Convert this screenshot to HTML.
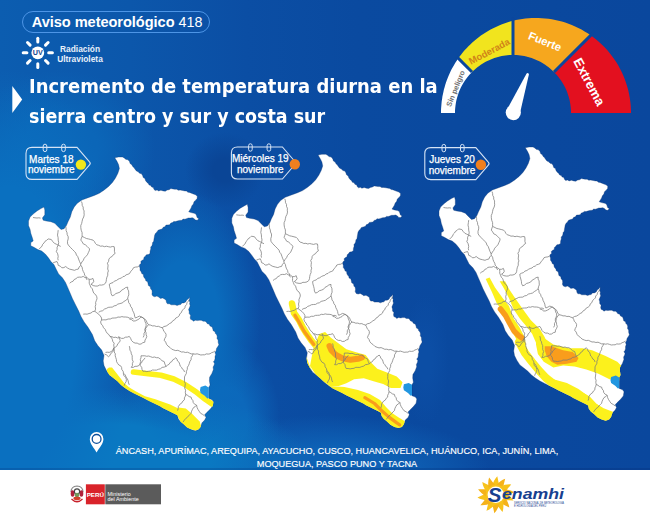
<!DOCTYPE html>
<html><head><meta charset="utf-8">
<style>
*{margin:0;padding:0;box-sizing:border-box}
html,body{width:650px;height:517px;overflow:hidden;background:#fff}
body{position:relative;font-family:"Liberation Sans",sans-serif}
#blue{position:absolute;left:0;top:0;width:650px;height:470px;
background:
 radial-gradient(ellipse 75px 130px at 185px 320px, rgba(10,108,189,1) 45%, rgba(10,108,189,0) 100%),
 radial-gradient(ellipse 40px 38px at 225px 170px, rgba(10,69,150,1) 30%, rgba(10,69,150,0) 100%),
 radial-gradient(ellipse 24px 65px at 425px 360px, rgba(12,78,165,1) 30%, rgba(12,78,165,0) 100%),
 radial-gradient(ellipse 120px 260px at 10px 330px, rgba(10,112,192,1) 55%, rgba(10,112,192,0) 100%),
 radial-gradient(ellipse 200px 75px at 110px 462px, rgba(10,120,194,1) 50%, rgba(10,120,194,0) 100%),
 radial-gradient(ellipse 95px 80px at 60px 150px, rgba(11,102,184,1) 40%, rgba(11,102,184,0) 100%),
 radial-gradient(ellipse 160px 55px at 330px 470px, rgba(14,98,182,1) 40%, rgba(14,98,182,0) 100%),
 radial-gradient(ellipse 55px 80px at 225px 420px, rgba(12,104,187,1) 40%, rgba(12,104,187,0) 100%),
 linear-gradient(90deg, #0c5db0 0%, #0c57ab 20%, #0b4ea4 38%, #0a4aa0 55%, #0a479d 100%);
}
.pill{position:absolute;left:22px;top:11px;width:188px;height:22px;border:1.3px solid #4d95e6;border-radius:11px;color:#fff;font-size:14.3px;line-height:20px;padding-left:8.7px;white-space:nowrap}
.pill b{font-weight:bold;font-size:14.6px;letter-spacing:-0.05px}
.uvt{position:absolute;left:50px;top:43.5px;width:60px;text-align:center;color:#e8f0fa;font-size:8.4px;font-weight:bold;line-height:10.8px}
.title{position:absolute;left:28.6px;top:72.3px;color:#fff;font-family:"DejaVu Sans",sans-serif;font-size:19.8px;font-weight:bold;line-height:30px;white-space:nowrap}
.title span{display:inline-block;transform-origin:0 0}
.title .l1{transform:scaleX(0.908)}
.title .l2{transform:scaleX(0.8837)}
.loc{position:absolute;left:37px;top:445.3px;width:600px;color:#fff;font-size:9.15px;line-height:12.6px;text-align:center;-webkit-text-stroke:0.15px #fff;letter-spacing:0px}
svg{position:absolute;left:0;top:0}
</style></head><body>
<div id="blue"><div style="position:absolute;left:0;top:467.5px;width:650px;height:2.5px;background:rgba(0,30,100,0.18)"></div></div>
<div class="pill"><b>Aviso meteorológico</b> 418</div>
<div class="uvt">Radiación<br>Ultravioleta</div>
<div class="title"><span class="l1">Incremento de temperatura diurna en la</span><br><span class="l2">sierra centro y sur y costa sur</span></div>
<svg width="650" height="517" viewBox="0 0 650 517">
<path d="M12.3,86 L22.2,99.5 L12.3,113 Z" fill="#fff"/>
<g stroke="#fff" stroke-width="3" stroke-linecap="round"><line x1="37.8" y1="41.9" x2="37.8" y2="38.2"/><line x1="45.5" y1="45.1" x2="48.1" y2="42.5"/><line x1="48.7" y1="52.8" x2="52.4" y2="52.8"/><line x1="45.5" y1="60.5" x2="48.1" y2="63.1"/><line x1="37.8" y1="63.7" x2="37.8" y2="67.4"/><line x1="30.1" y1="60.5" x2="27.5" y2="63.1"/><line x1="26.9" y1="52.8" x2="23.2" y2="52.8"/><line x1="30.1" y1="45.1" x2="27.5" y2="42.5"/></g>
<circle cx="37.8" cy="52.8" r="6.4" fill="#fff"/>
<text x="37.8" y="55.4" text-anchor="middle" font-size="7.2" font-weight="bold" fill="#17468f" font-family="Liberation Sans, sans-serif">UV</text>
<path d="M441.0,113.0 L441.0,110.6 L441.1,108.3 L441.3,105.9 L441.5,103.6 L441.7,101.2 L442.1,98.9 L442.4,96.5 L442.9,94.2 L443.4,91.9 L443.9,89.6 L444.6,87.2 L445.2,84.9 L446.0,82.6 L446.8,80.3 L447.7,78.1 L448.6,75.8 L449.6,73.6 L450.6,71.3 L451.7,69.1 L452.9,66.9 L454.2,64.7 L455.5,62.6 L456.9,60.4 L458.3,58.3 L472.0,72.0 L470.7,73.4 L469.4,74.8 L468.2,76.2 L467.0,77.7 L465.9,79.2 L464.8,80.8 L463.7,82.4 L462.8,84.0 L461.8,85.7 L461.0,87.3 L460.2,89.1 L459.4,90.8 L458.7,92.6 L458.1,94.4 L457.5,96.2 L457.0,98.0 L456.5,99.8 L456.1,101.7 L455.8,103.6 L455.5,105.4 L455.3,107.3 L455.1,109.2 L455.0,111.1 L455.0,113.0 Z" fill="#ffffff"/>
<path d="M458.3,58.3 L459.8,56.2 L461.4,54.2 L463.1,52.1 L464.8,50.1 L466.6,48.2 L468.4,46.3 L470.3,44.4 L472.3,42.5 L474.4,40.7 L476.5,39.0 L478.7,37.2 L480.9,35.6 L483.3,34.0 L485.7,32.4 L488.1,31.0 L490.6,29.5 L493.2,28.2 L495.9,26.9 L498.6,25.7 L501.4,24.5 L504.2,23.5 L507.1,22.5 L510.0,21.6 L513.0,20.8 L513.0,55.0 L511.1,55.0 L509.2,55.1 L507.3,55.3 L505.4,55.5 L503.6,55.8 L501.7,56.1 L499.8,56.5 L498.0,57.0 L496.2,57.5 L494.4,58.1 L492.6,58.7 L490.8,59.4 L489.1,60.2 L487.3,61.0 L485.7,61.8 L484.0,62.8 L482.4,63.7 L480.8,64.8 L479.2,65.9 L477.7,67.0 L476.2,68.2 L474.8,69.4 L473.4,70.7 L472.0,72.0 Z" fill="#f1e41e"/>
<path d="M513.0,20.8 L516.0,20.1 L519.1,19.5 L522.3,19.0 L525.4,18.6 L528.6,18.3 L531.9,18.1 L535.2,18.0 L538.4,18.0 L541.8,18.2 L545.1,18.4 L548.4,18.8 L551.8,19.3 L555.2,20.0 L558.5,20.7 L561.9,21.6 L565.2,22.6 L568.5,23.7 L571.8,25.0 L575.1,26.4 L578.3,27.9 L581.5,29.6 L584.6,31.4 L587.7,33.3 L590.7,35.3 L554.0,72.0 L552.6,70.7 L551.2,69.4 L549.8,68.2 L548.3,67.0 L546.8,65.9 L545.2,64.8 L543.6,63.7 L542.0,62.8 L540.3,61.8 L538.7,61.0 L536.9,60.2 L535.2,59.4 L533.4,58.7 L531.6,58.1 L529.8,57.5 L528.0,57.0 L526.2,56.5 L524.3,56.1 L522.4,55.8 L520.6,55.5 L518.7,55.3 L516.8,55.1 L514.9,55.0 L513.0,55.0 Z" fill="#f6a71e"/>
<path d="M590.7,35.3 L593.6,37.5 L596.5,39.8 L599.3,42.2 L602.0,44.7 L604.6,47.3 L607.2,50.1 L609.6,52.9 L611.9,55.9 L614.1,58.9 L616.2,62.1 L618.2,65.3 L620.0,68.7 L621.7,72.1 L623.3,75.6 L624.7,79.1 L626.0,82.7 L627.2,86.4 L628.2,90.1 L629.0,93.8 L629.7,97.6 L630.3,101.4 L630.7,105.3 L630.9,109.1 L631.0,113.0 L571.0,113.0 L571.0,111.1 L570.9,109.2 L570.7,107.3 L570.5,105.4 L570.2,103.6 L569.9,101.7 L569.5,99.8 L569.0,98.0 L568.5,96.2 L567.9,94.4 L567.3,92.6 L566.6,90.8 L565.8,89.1 L565.0,87.3 L564.2,85.7 L563.2,84.0 L562.3,82.4 L561.2,80.8 L560.1,79.2 L559.0,77.7 L557.8,76.2 L556.6,74.8 L555.3,73.4 L554.0,72.0 Z" fill="#e3101f"/>
<line x1="472.0" y1="72.0" x2="456.9" y2="56.9" stroke="#0a479d" stroke-width="3"/>
<line x1="513.0" y1="55.0" x2="513.0" y2="17.4" stroke="#0a479d" stroke-width="3"/>
<line x1="554.0" y1="72.0" x2="594.4" y2="31.6" stroke="#0a479d" stroke-width="3"/>
<path d="M507.6,108.5 L526.6,73.4 Q528.3,72.4 528.9,74.4 L520.6,110.5 Z" fill="#fff"/>
<circle cx="513.3" cy="112.6" r="7.6" fill="#fff"/>
<text transform="translate(455.5,88.5) rotate(-68)" text-anchor="middle" dominant-baseline="central" font-size="7.4" font-weight="bold" fill="#707070" font-family="Liberation Sans, sans-serif">Sin peligro</text>
<text transform="translate(489.2,51.2) rotate(-28)" text-anchor="middle" dominant-baseline="central" font-size="9.5" font-weight="bold" fill="#d08418" font-family="Liberation Sans, sans-serif">Moderada</text>
<text transform="translate(545,41.4) rotate(22)" text-anchor="middle" dominant-baseline="central" font-size="11.3" font-weight="bold" fill="#fff" font-family="Liberation Sans, sans-serif">Fuerte</text>
<text transform="translate(589.2,81.8) rotate(62)" text-anchor="middle" dominant-baseline="central" font-size="13.2" font-weight="bold" fill="#fff" font-family="Liberation Sans, sans-serif">Extrema</text>
<g transform="translate(0,0)"><clipPath id="cp1"><path d="M114.8,157.7 L118.6,157.0 L120.5,157.0 L122.5,157.0 L124.3,157.9 L125.6,159.3 L127.9,159.8 L129.5,161.6 L130.1,163.6 L131.8,164.7 L132.7,166.5 L134.1,167.8 L135.2,169.4 L136.4,170.9 L138.2,171.8 L139.5,173.2 L141.5,173.8 L142.6,175.5 L143.2,177.5 L144.9,178.6 L145.6,180.7 L147.0,182.4 L148.3,183.4 L149.1,185.0 L150.8,185.5 L151.6,187.0 L153.4,187.6 L153.9,189.3 L155.2,190.5 L157.1,190.0 L158.6,190.9 L160.9,190.2 L163.2,190.9 L165.3,191.2 L167.1,190.1 L169.1,189.7 L170.9,188.6 L172.9,188.9 L174.8,189.3 L176.7,189.2 L178.3,190.2 L180.2,190.1 L182.6,190.5 L184.9,190.9 L186.5,191.1 L187.9,192.2 L189.5,192.4 L191.4,193.2 L193.4,194.0 L195.5,194.8 L197.3,196.3 L197.1,198.5 L195.7,200.2 L194.0,201.7 L193.4,204.0 L191.9,205.8 L191.1,207.9 L189.9,209.9 L188.7,211.8 L191.1,212.6 L194.2,213.3 L195.8,214.0 L196.5,215.6 L197.1,217.6 L198.8,218.7 L197.3,220.3 L195.4,220.1 L194.2,218.7 L192.4,217.7 L190.3,218.0 L188.3,218.0 L186.4,218.7 L184.9,219.2 L183.1,219.1 L181.8,220.3 L179.4,220.4 L177.1,221.1 L175.6,221.6 L173.8,221.4 L172.5,222.6 L170.8,223.1 L169.7,224.8 L167.9,224.9 L166.0,225.1 L164.9,226.8 L163.2,227.3 L162.1,229.0 L160.1,229.6 L158.1,230.2 L157.0,231.9 L155.6,233.2 L154.7,235.0 L154.3,237.3 L153.9,239.6 L153.7,241.3 L152.6,242.6 L152.4,244.3 L151.9,245.8 L150.7,247.1 L150.8,248.9 L150.1,251.1 L150.0,253.5 L148.4,254.5 L146.4,254.8 L145.1,256.4 L143.9,257.5 L143.7,259.4 L142.2,260.3 L140.8,261.4 L141.1,263.4 L139.7,264.5 L139.3,266.1 L140.0,268.0 L140.0,270.2 L141.3,271.9 L141.7,273.5 L143.4,274.5 L143.5,276.2 L144.2,277.7 L145.4,279.0 L145.8,280.8 L147.6,281.7 L148.0,283.5 L148.4,285.5 L150.3,286.7 L150.6,288.8 L151.9,290.3 L152.2,292.2 L151.9,294.3 L152.9,296.1 L154.8,296.8 L156.9,296.1 L158.7,297.1 L160.4,298.4 L162.7,298.0 L164.5,299.0 L166.1,300.2 L166.4,302.2 L167.4,303.8 L169.4,303.8 L171.2,304.8 L173.2,304.8 L175.1,304.8 L177.1,305.5 L179.0,304.8 L180.7,304.5 L181.9,302.9 L183.8,302.9 L185.7,301.9 L186.7,300.0 L188.4,298.8 L189.6,297.1 L189.6,298.8 L188.9,300.5 L189.9,302.1 L189.6,303.8 L190.2,305.8 L189.4,307.7 L188.6,309.6 L189.2,311.6 L189.2,313.6 L190.6,315.3 L190.2,317.4 L190.6,319.3 L192.2,320.0 L193.5,321.2 L195.3,320.2 L197.4,320.6 L199.3,320.3 L201.3,320.3 L203.1,321.2 L205.1,321.2 L206.4,322.2 L207.3,323.7 L209.0,324.1 L210.0,325.9 L212.1,326.9 L212.8,329.0 L213.2,330.8 L215.0,331.7 L215.4,333.5 L216.7,334.8 L217.2,336.6 L217.0,338.5 L218.1,340.1 L218.2,342.5 L218.9,344.8 L217.7,346.7 L216.5,348.6 L216.1,350.7 L215.0,352.5 L215.7,354.6 L215.0,356.6 L215.0,358.7 L214.5,360.4 L213.4,361.8 L214.5,363.2 L214.2,364.9 L213.1,367.1 L213.4,369.5 L211.9,373.4 L209.6,377.3 L209.4,380.8 L210.1,384.9 L208.7,387.5 L208.7,392.0 L208.7,398.4 L212.1,399.8 L213.5,401.8 L212.8,405.9 L210.1,409.3 L206.7,412.6 L204.7,414.7 L206.0,417.4 L204.7,420.1 L202.0,422.8 L200.6,426.9 L198.6,429.6 L195.2,430.7 L191.1,429.6 L187.1,427.5 L183.7,424.2 L180.3,421.4 L178.3,418.7 L177.6,415.4 L174.9,414.0 L170.8,412.0 L166.8,409.9 L162.7,407.9 L160.0,406.3 L157.4,405.0 L152.7,402.7 L148.1,400.4 L143.4,398.1 L138.8,395.8 L134.2,393.4 L129.5,391.1 L124.9,388.0 L121.0,384.9 L117.1,381.1 L113.3,378.0 L109.4,374.9 L106.3,370.2 L104.0,365.6 L103.2,360.9 L104.0,355.5 L101.7,350.1 L97.8,345.5 L94.7,340.8 L92.4,334.6 L88.0,327.3 L84.1,321.9 L81.0,316.5 L78.7,311.1 L75.6,304.9 L72.5,298.7 L70.2,293.3 L67.9,287.9 L65.5,282.4 L62.4,277.8 L58.6,273.9 L56.2,269.3 L53.9,264.6 L50.9,261.5 L48.6,258.1 L45.5,254.2 L41.7,251.1 L37.8,249.6 L33.9,247.3 L30.8,245.7 L30.8,242.6 L33.2,241.0 L32.4,238.0 L30.8,233.3 L30.1,229.5 L28.5,225.6 L28.5,221.0 L30.1,217.1 L33.2,214.0 L37.0,210.9 L40.9,208.6 L44.0,207.0 L44.8,210.1 L44.8,214.8 L42.4,217.9 L43.2,220.2 L46.3,221.0 L50.9,221.7 L54.8,223.3 L57.9,226.4 L61.0,229.5 L64.1,228.7 L66.4,225.6 L68.0,221.7 L70.3,217.1 L71.8,211.7 L74.2,207.0 L77.3,203.2 L81.9,200.0 L88.1,197.7 L94.3,195.4 L99.3,193.3 L103.9,190.2 L108.6,186.4 L112.4,182.5 L115.5,177.9 L117.9,173.2 L119.4,168.6 L118.6,164.7 L117.1,161.6 Z"/></clipPath><path d="M114.8,157.7 L118.6,157.0 L120.5,157.0 L122.5,157.0 L124.3,157.9 L125.6,159.3 L127.9,159.8 L129.5,161.6 L130.1,163.6 L131.8,164.7 L132.7,166.5 L134.1,167.8 L135.2,169.4 L136.4,170.9 L138.2,171.8 L139.5,173.2 L141.5,173.8 L142.6,175.5 L143.2,177.5 L144.9,178.6 L145.6,180.7 L147.0,182.4 L148.3,183.4 L149.1,185.0 L150.8,185.5 L151.6,187.0 L153.4,187.6 L153.9,189.3 L155.2,190.5 L157.1,190.0 L158.6,190.9 L160.9,190.2 L163.2,190.9 L165.3,191.2 L167.1,190.1 L169.1,189.7 L170.9,188.6 L172.9,188.9 L174.8,189.3 L176.7,189.2 L178.3,190.2 L180.2,190.1 L182.6,190.5 L184.9,190.9 L186.5,191.1 L187.9,192.2 L189.5,192.4 L191.4,193.2 L193.4,194.0 L195.5,194.8 L197.3,196.3 L197.1,198.5 L195.7,200.2 L194.0,201.7 L193.4,204.0 L191.9,205.8 L191.1,207.9 L189.9,209.9 L188.7,211.8 L191.1,212.6 L194.2,213.3 L195.8,214.0 L196.5,215.6 L197.1,217.6 L198.8,218.7 L197.3,220.3 L195.4,220.1 L194.2,218.7 L192.4,217.7 L190.3,218.0 L188.3,218.0 L186.4,218.7 L184.9,219.2 L183.1,219.1 L181.8,220.3 L179.4,220.4 L177.1,221.1 L175.6,221.6 L173.8,221.4 L172.5,222.6 L170.8,223.1 L169.7,224.8 L167.9,224.9 L166.0,225.1 L164.9,226.8 L163.2,227.3 L162.1,229.0 L160.1,229.6 L158.1,230.2 L157.0,231.9 L155.6,233.2 L154.7,235.0 L154.3,237.3 L153.9,239.6 L153.7,241.3 L152.6,242.6 L152.4,244.3 L151.9,245.8 L150.7,247.1 L150.8,248.9 L150.1,251.1 L150.0,253.5 L148.4,254.5 L146.4,254.8 L145.1,256.4 L143.9,257.5 L143.7,259.4 L142.2,260.3 L140.8,261.4 L141.1,263.4 L139.7,264.5 L139.3,266.1 L140.0,268.0 L140.0,270.2 L141.3,271.9 L141.7,273.5 L143.4,274.5 L143.5,276.2 L144.2,277.7 L145.4,279.0 L145.8,280.8 L147.6,281.7 L148.0,283.5 L148.4,285.5 L150.3,286.7 L150.6,288.8 L151.9,290.3 L152.2,292.2 L151.9,294.3 L152.9,296.1 L154.8,296.8 L156.9,296.1 L158.7,297.1 L160.4,298.4 L162.7,298.0 L164.5,299.0 L166.1,300.2 L166.4,302.2 L167.4,303.8 L169.4,303.8 L171.2,304.8 L173.2,304.8 L175.1,304.8 L177.1,305.5 L179.0,304.8 L180.7,304.5 L181.9,302.9 L183.8,302.9 L185.7,301.9 L186.7,300.0 L188.4,298.8 L189.6,297.1 L189.6,298.8 L188.9,300.5 L189.9,302.1 L189.6,303.8 L190.2,305.8 L189.4,307.7 L188.6,309.6 L189.2,311.6 L189.2,313.6 L190.6,315.3 L190.2,317.4 L190.6,319.3 L192.2,320.0 L193.5,321.2 L195.3,320.2 L197.4,320.6 L199.3,320.3 L201.3,320.3 L203.1,321.2 L205.1,321.2 L206.4,322.2 L207.3,323.7 L209.0,324.1 L210.0,325.9 L212.1,326.9 L212.8,329.0 L213.2,330.8 L215.0,331.7 L215.4,333.5 L216.7,334.8 L217.2,336.6 L217.0,338.5 L218.1,340.1 L218.2,342.5 L218.9,344.8 L217.7,346.7 L216.5,348.6 L216.1,350.7 L215.0,352.5 L215.7,354.6 L215.0,356.6 L215.0,358.7 L214.5,360.4 L213.4,361.8 L214.5,363.2 L214.2,364.9 L213.1,367.1 L213.4,369.5 L211.9,373.4 L209.6,377.3 L209.4,380.8 L210.1,384.9 L208.7,387.5 L208.7,392.0 L208.7,398.4 L212.1,399.8 L213.5,401.8 L212.8,405.9 L210.1,409.3 L206.7,412.6 L204.7,414.7 L206.0,417.4 L204.7,420.1 L202.0,422.8 L200.6,426.9 L198.6,429.6 L195.2,430.7 L191.1,429.6 L187.1,427.5 L183.7,424.2 L180.3,421.4 L178.3,418.7 L177.6,415.4 L174.9,414.0 L170.8,412.0 L166.8,409.9 L162.7,407.9 L160.0,406.3 L157.4,405.0 L152.7,402.7 L148.1,400.4 L143.4,398.1 L138.8,395.8 L134.2,393.4 L129.5,391.1 L124.9,388.0 L121.0,384.9 L117.1,381.1 L113.3,378.0 L109.4,374.9 L106.3,370.2 L104.0,365.6 L103.2,360.9 L104.0,355.5 L101.7,350.1 L97.8,345.5 L94.7,340.8 L92.4,334.6 L88.0,327.3 L84.1,321.9 L81.0,316.5 L78.7,311.1 L75.6,304.9 L72.5,298.7 L70.2,293.3 L67.9,287.9 L65.5,282.4 L62.4,277.8 L58.6,273.9 L56.2,269.3 L53.9,264.6 L50.9,261.5 L48.6,258.1 L45.5,254.2 L41.7,251.1 L37.8,249.6 L33.9,247.3 L30.8,245.7 L30.8,242.6 L33.2,241.0 L32.4,238.0 L30.8,233.3 L30.1,229.5 L28.5,225.6 L28.5,221.0 L30.1,217.1 L33.2,214.0 L37.0,210.9 L40.9,208.6 L44.0,207.0 L44.8,210.1 L44.8,214.8 L42.4,217.9 L43.2,220.2 L46.3,221.0 L50.9,221.7 L54.8,223.3 L57.9,226.4 L61.0,229.5 L64.1,228.7 L66.4,225.6 L68.0,221.7 L70.3,217.1 L71.8,211.7 L74.2,207.0 L77.3,203.2 L81.9,200.0 L88.1,197.7 L94.3,195.4 L99.3,193.3 L103.9,190.2 L108.6,186.4 L112.4,182.5 L115.5,177.9 L117.9,173.2 L119.4,168.6 L118.6,164.7 L117.1,161.6 Z" fill="#fff" stroke="#0a3270" stroke-opacity="0.55" stroke-width="0.6"/><filter id="sf1" x="-10%" y="-10%" width="120%" height="120%"><feGaussianBlur stdDeviation="0.55"/></filter><g clip-path="url(#cp1)"><g filter="url(#sf1)"><path d="M109.0,367.5 L112.0,367.5 L115.0,371.3 L119.5,377.0 L124.3,383.3 L129.0,387.2 L135.6,391.3 L145.0,396.2 L155.4,399.3 L170.1,404.5 L179.4,409.0 L181.0,414.0 L176.0,421.0 L160.0,413.0 L140.0,404.0 L125.0,395.0 L112.0,385.0 L106.0,375.0 L107.0,369.0 Z" fill="#fcf11e"/><path d="M133.5,372.0 L146.2,373.5 L160.9,375.3 L173.8,379.0 L184.9,384.5 L196.0,391.9 L205.2,399.3 L212.0,404.0" fill="none" stroke="#fcf11e" stroke-width="5.6" stroke-linejoin="round" stroke-linecap="round"/><path d="M178.5,407.6 L185.8,408.5 L192.3,414.1 L199.7,421.5 L201.5,427.9 L196.0,430.7 L186.8,427.9 L181.2,423.3 L178.5,417.8 Z" fill="#fcf11e"/></g></g><g fill="none" stroke="#7a7a7a" stroke-width="0.75" stroke-linejoin="round"><path d="M33.0,217.5 L35.0,217.8 L37.0,218.0 L38.8,217.8 L40.6,218.1"/><path d="M39.3,249.0 L40.5,247.5 L42.0,246.3 L42.6,244.4 L44.0,243.0 L45.0,241.3 L46.7,240.3 L48.1,238.9 L51.3,239.5 L52.7,241.5 L54.4,243.3 L56.3,244.2 L58.2,245.2 L60.7,246.4"/><path d="M58.2,230.1 L57.9,232.6 L57.5,235.1 L58.1,237.6 L58.2,240.1 L58.7,242.6 L58.2,245.2 L57.1,247.2 L57.1,249.5 L56.3,251.5 L57.7,253.8 L58.2,256.5 L57.8,258.4 L58.2,260.3"/><path d="M53.1,262.8 L55.0,262.1 L57.0,261.5 L57.8,263.3 L58.2,265.3 L60.3,266.2 L61.9,267.8 L63.9,267.6 L65.7,266.5 L67.5,268.0 L69.5,269.1 L72.0,269.7 L74.5,270.3 L76.3,269.5 L78.3,269.1 L79.2,267.0 L80.8,265.3"/><path d="M65.7,226.3 L66.1,228.4 L66.1,230.6 L67.0,232.6 L67.2,234.7 L68.2,236.7 L68.2,238.9 L67.5,241.3 L67.6,243.9 L69.0,245.9 L70.7,247.7 L72.6,249.6 L74.5,251.5 L75.8,253.0 L76.4,255.0 L77.7,256.5 L78.6,259.0 L79.5,261.5 L80.4,263.3 L80.8,265.3 L82.1,267.2 L82.5,269.5 L83.3,271.6 L84.3,273.2 L84.6,275.1 L86.0,276.5 L86.3,278.3 L87.1,280.0"/><path d="M81.5,201.5 L82.1,203.4 L82.2,205.4 L83.2,207.1 L83.2,209.1 L84.1,210.9 L84.0,212.9 L84.2,214.8 L83.7,217.0 L82.6,219.1 L82.1,221.3 L81.7,223.4 L80.8,225.4 L80.8,227.6 L81.2,230.2 L82.1,232.6 L82.1,234.5 L82.1,236.4 L84.6,237.6 L86.4,238.5 L88.3,238.9 L90.7,239.5 L93.0,240.1 L94.4,241.5 L95.4,243.4 L96.8,244.8 L98.7,245.3 L100.5,246.2 L102.6,246.0 L104.5,246.7 L106.4,246.2 L108.4,246.7 L110.3,247.1 L112.3,246.5 L114.2,246.7"/><path d="M82.1,236.4 L81.4,238.2 L80.8,240.1 L82.2,241.9 L83.3,243.9 L85.4,244.8 L87.1,246.4 L89.6,248.9 L89.2,250.9 L88.3,252.7 L87.4,254.8 L85.8,256.5 L84.2,258.2 L83.3,260.3 L81.9,262.0 L80.8,264.0"/><path d="M114.2,246.7 L114.5,249.0 L114.4,251.3 L115.1,253.5 L113.4,254.6 L112.2,256.4 L110.3,257.4 L108.9,259.1 L108.6,261.4 L107.4,263.2 L108.1,265.1 L107.9,267.0 L107.7,269.0 L108.4,270.9 L107.7,272.9 L107.8,275.2 L106.9,277.2 L106.4,279.3 L106.2,281.3 L105.5,283.2 L103.7,284.6 L101.6,285.1 L99.6,285.0 L97.8,286.0 L95.8,286.1 L93.2,285.6 L91.0,284.2 L92.7,283.1 L93.8,281.3 L92.9,278.4 L91.1,279.3 L89.0,279.3 L87.3,277.9 L85.0,277.6 L83.2,276.4 L81.3,277.2 L79.3,277.1 L77.4,277.4 L76.0,278.7 L74.2,279.5 L73.1,281.2 L71.2,282.0 L69.7,283.2"/><path d="M89.0,279.3 L89.3,281.2 L89.2,283.2 L90.0,285.1 L90.8,287.2 L92.3,288.8 L92.9,291.0 L93.8,293.2 L95.7,294.7 L96.8,296.8 L97.0,298.8 L96.3,300.6 L95.6,302.5 L95.8,304.5 L95.2,306.7 L95.6,309.1 L94.8,311.3 L92.7,311.6 L91.0,313.0 L89.0,313.5 L87.1,314.2 L85.1,314.0 L83.2,314.2"/><path d="M94.8,311.3 L96.8,312.8 L98.7,314.2 L100.3,316.0 L101.6,318.0 L101.5,320.1 L100.6,321.9 L101.2,324.0 L102.7,325.7 L103.5,327.7 L105.2,329.4 L106.1,331.6 L107.4,333.5 L108.9,334.6 L109.8,336.3 L111.3,337.4 L112.3,339.3 L112.8,341.5 L114.2,343.2 L113.7,345.1 L114.1,347.1 L113.5,349.0 L113.2,350.9 L112.2,352.5 L110.6,353.7 L109.9,355.5 L108.4,356.7 L106.7,355.0 L104.5,354.0"/><path d="M98.7,312.2 L100.6,311.2 L102.7,310.7 L104.4,309.1 L106.4,308.4 L108.2,307.4 L110.3,307.2 L112.3,307.1 L114.1,305.9 L116.1,305.5 L117.8,304.1 L119.9,303.6 L122.1,303.0 L123.8,301.6 L125.9,300.3 L127.7,298.7 L128.0,296.8 L128.8,294.9 L128.7,292.9 L128.6,290.9 L127.6,289.1 L127.7,287.1 L125.6,287.6 L123.8,289.0 L121.7,290.1 L120.2,292.0 L118.0,292.9 L115.9,293.5 L114.2,295.0 L112.2,295.8 L111.1,293.7 L110.9,291.3 L110.3,289.0 L109.6,286.6 L109.3,284.2"/><path d="M127.7,298.7 L128.4,300.6 L128.7,302.7 L130.1,304.4 L130.6,306.4 L132.0,308.1 L132.5,310.3 L133.5,312.2 L134.3,314.1 L134.6,316.1 L135.4,318.0 L137.4,317.1 L139.3,316.1 L141.3,316.8 L143.2,318.0 L144.6,319.7 L145.1,321.9 L146.1,323.8 L146.1,325.8 L145.4,327.7 L145.8,329.7 L145.1,331.6 L144.0,333.4 L144.0,335.5 L143.2,337.4"/><path d="M101.6,320.0 L103.8,319.8 L106.0,319.9 L108.1,319.0 L110.3,319.0 L112.1,318.1 L114.2,318.0 L116.2,317.9 L118.0,317.0 L120.0,317.2 L121.9,316.6 L123.8,317.0 L125.8,317.0 L127.8,317.3 L129.6,318.2 L131.7,318.1 L133.5,319.0"/><path d="M109.3,284.2 L111.0,283.2 L113.0,282.6 L114.4,281.1 L116.4,280.5 L118.0,279.3 L119.7,278.5 L121.5,278.0 L122.9,276.6 L124.7,276.2 L126.1,274.8 L127.9,274.3 L129.6,273.5 L130.7,271.4 L132.4,269.8 L133.5,267.7 L135.4,267.1 L137.5,266.9 L139.3,265.8"/><path d="M189.3,299.7 L188.3,301.3 L187.0,302.7 L186.6,304.6 L185.2,306.0 L184.9,307.9 L183.5,309.3 L182.0,310.6 L181.4,312.6 L179.8,313.8 L179.2,315.8 L177.7,317.1 L175.8,318.0 L174.6,319.8 L172.7,320.8 L171.5,322.6 L169.6,323.5 L168.0,324.8 L166.2,326.0 L164.0,326.5 L162.2,327.7 L160.3,327.2 L158.5,326.3 L156.4,326.5 L154.5,325.8 L152.5,325.9 L150.6,325.1 L148.7,324.8 L147.2,323.0 L146.3,320.8 L144.8,319.0 L141.9,317.1 L140.1,317.7 L138.8,319.2 L137.1,320.0 L135.3,320.9 L133.2,321.0 L131.5,319.6 L129.3,319.0"/><path d="M162.2,327.7 L163.2,329.4 L163.8,331.3 L165.3,332.7 L166.1,334.5 L165.9,336.6 L164.8,338.4 L164.2,340.3 L165.7,342.1 L166.5,344.3 L168.0,346.1 L169.9,347.4 L171.6,349.1 L173.8,350.0 L175.7,350.6 L177.8,350.3 L179.6,351.1 L181.5,352.0 L183.5,351.9 L185.4,352.5 L187.5,352.2 L189.3,353.0 L191.2,353.9 L193.2,353.8 L195.1,354.2 L197.1,353.8 L199.0,354.4 L200.8,355.0 L202.8,354.8 L204.6,354.8 L206.3,353.9 L208.2,354.1 L210.0,353.8 L211.6,352.7 L213.4,352.1 L215.0,351.0"/><path d="M193.2,353.8 L192.4,355.7 L191.2,357.5 L191.1,359.7 L189.9,361.5 L189.3,363.5 L188.6,365.4 L187.4,367.2 L187.3,369.4 L186.4,371.2 L186.4,373.3 L185.4,375.1 L184.5,376.9 L184.5,379.0 L184.4,381.3 L185.3,383.6 L185.0,386.0 L184.7,388.1 L185.6,390.2 L185.3,392.3 L185.7,394.4 L185.3,396.2 L184.4,397.9 L184.4,399.8 L182.9,401.0 L182.0,402.8 L180.3,403.8 L178.3,406.6 L178.2,408.6 L177.6,410.6"/><path d="M144.8,355.8 L142.9,355.8 L141.0,355.8 L141.0,357.8 L140.3,359.6 L140.7,361.6 L140.0,363.5 L140.3,365.6 L141.7,367.3 L142.0,369.4 L142.9,371.2 L144.8,371.2 L146.8,371.6 L148.7,371.2 L150.7,371.0 L152.5,370.0 L154.5,370.1 L156.5,370.1 L158.4,369.3 L160.4,368.8 L162.1,367.4 L164.2,367.1 L166.1,366.4 L164.9,364.1 L164.2,361.6 L162.0,360.7 L160.3,359.0 L158.4,357.7 L156.4,357.7 L154.5,357.0 L152.5,357.4 L150.6,356.7 L148.7,356.0 L146.7,356.3 L144.8,355.8"/><path d="M110.0,336.4 L111.9,336.7 L113.8,337.5 L115.8,337.2 L117.7,338.0 L119.7,337.6 L121.6,338.4 L123.6,338.3 L125.4,337.2 L127.4,337.1 L129.3,336.4 L130.6,338.3 L131.5,340.5 L133.2,342.2 L135.1,343.1 L137.2,343.1 L139.0,344.2 L141.1,344.0 L142.8,342.7 L144.8,342.2 L145.0,340.1 L146.1,338.3 L146.8,336.4 L146.1,334.5 L146.0,332.5 L144.9,330.7 L144.8,328.7 L146.4,327.7 L147.2,325.9 L148.7,324.8"/><path d="M113.9,348.0 L114.3,349.9 L114.2,352.0 L115.3,353.8 L115.2,355.8 L115.8,357.7 L116.4,359.6 L116.6,361.7 L117.7,363.5 L118.8,365.0 L120.6,365.8 L121.6,367.4 L121.8,369.5 L123.1,371.2 L123.5,373.2 L125.2,374.9 L126.1,377.1 L127.4,379.0 L128.2,380.9 L128.5,382.9 L129.3,384.8"/><path d="M129.3,346.1 L129.8,348.0 L129.9,350.1 L131.0,351.8 L131.3,353.8 L132.2,355.6 L132.2,357.7 L132.3,359.8 L133.2,361.6 L132.4,363.5 L132.4,365.6 L131.3,367.4 L133.3,367.4 L135.0,366.3 L137.0,366.3 L138.8,365.6 L140.0,364.1 L141.6,362.8 L142.3,360.8 L143.9,359.6 L145.0,357.9"/><path d="M166.1,366.4 L167.5,365.2 L169.2,364.2 L170.1,362.5 L171.8,361.6 L172.7,359.9 L174.4,358.9 L175.8,357.7 L177.0,359.2 L177.5,361.0 L179.1,362.3 L179.7,364.2 L180.2,366.0 L181.6,367.4 L182.4,369.1 L183.9,370.2 L184.5,372.0"/><path d="M185.7,394.4 L187.5,395.3 L189.1,396.6 L191.1,397.1 L191.6,399.0 L192.9,400.5 L193.2,402.5 L194.6,404.2 L196.6,405.2 L197.0,407.3 L197.9,409.3 L199.2,411.3 L200.6,413.3 L202.8,414.5 L204.7,416.0"/><path d="M196.6,405.2 L195.2,406.6 L193.5,407.6 L192.5,409.3 L191.6,411.2 L191.1,413.3 L189.8,414.6 L188.4,416.0 L187.2,417.5 L185.6,418.6 L184.4,420.1 L183.0,422.1"/><path d="M105.5,352.4 L107.3,352.2 L109.2,352.4 L111.0,351.7 L112.7,350.3 L113.7,348.3 L115.6,347.0 L117.1,345.7 L117.7,343.8 L119.2,342.5 L120.2,340.8 L119.5,338.5 L118.7,336.2"/><path d="M124.1,385.7 L124.9,383.6 L126.1,381.7 L126.4,379.5 L125.6,377.3 L123.9,375.6 L123.3,373.3"/></g><path d="M205.4,385.6 L200.6,386.9 L200.0,390.3 L200.6,393.0 L204.7,395.7 L207.4,398.4 L208.7,398.0 L208.7,392.0 L208.7,387.5 Z" fill="#2196e0"/></g>
<g transform="translate(203.3,-2.7)"><clipPath id="cp2"><path d="M114.8,157.7 L118.6,157.0 L120.5,157.0 L122.5,157.0 L124.3,157.9 L125.6,159.3 L127.9,159.8 L129.5,161.6 L130.1,163.6 L131.8,164.7 L132.7,166.5 L134.1,167.8 L135.2,169.4 L136.4,170.9 L138.2,171.8 L139.5,173.2 L141.5,173.8 L142.6,175.5 L143.2,177.5 L144.9,178.6 L145.6,180.7 L147.0,182.4 L148.3,183.4 L149.1,185.0 L150.8,185.5 L151.6,187.0 L153.4,187.6 L153.9,189.3 L155.2,190.5 L157.1,190.0 L158.6,190.9 L160.9,190.2 L163.2,190.9 L165.3,191.2 L167.1,190.1 L169.1,189.7 L170.9,188.6 L172.9,188.9 L174.8,189.3 L176.7,189.2 L178.3,190.2 L180.2,190.1 L182.6,190.5 L184.9,190.9 L186.5,191.1 L187.9,192.2 L189.5,192.4 L191.4,193.2 L193.4,194.0 L195.5,194.8 L197.3,196.3 L197.1,198.5 L195.7,200.2 L194.0,201.7 L193.4,204.0 L191.9,205.8 L191.1,207.9 L189.9,209.9 L188.7,211.8 L191.1,212.6 L194.2,213.3 L195.8,214.0 L196.5,215.6 L197.1,217.6 L198.8,218.7 L197.3,220.3 L195.4,220.1 L194.2,218.7 L192.4,217.7 L190.3,218.0 L188.3,218.0 L186.4,218.7 L184.9,219.2 L183.1,219.1 L181.8,220.3 L179.4,220.4 L177.1,221.1 L175.6,221.6 L173.8,221.4 L172.5,222.6 L170.8,223.1 L169.7,224.8 L167.9,224.9 L166.0,225.1 L164.9,226.8 L163.2,227.3 L162.1,229.0 L160.1,229.6 L158.1,230.2 L157.0,231.9 L155.6,233.2 L154.7,235.0 L154.3,237.3 L153.9,239.6 L153.7,241.3 L152.6,242.6 L152.4,244.3 L151.9,245.8 L150.7,247.1 L150.8,248.9 L150.1,251.1 L150.0,253.5 L148.4,254.5 L146.4,254.8 L145.1,256.4 L143.9,257.5 L143.7,259.4 L142.2,260.3 L140.8,261.4 L141.1,263.4 L139.7,264.5 L139.3,266.1 L140.0,268.0 L140.0,270.2 L141.3,271.9 L141.7,273.5 L143.4,274.5 L143.5,276.2 L144.2,277.7 L145.4,279.0 L145.8,280.8 L147.6,281.7 L148.0,283.5 L148.4,285.5 L150.3,286.7 L150.6,288.8 L151.9,290.3 L152.2,292.2 L151.9,294.3 L152.9,296.1 L154.8,296.8 L156.9,296.1 L158.7,297.1 L160.4,298.4 L162.7,298.0 L164.5,299.0 L166.1,300.2 L166.4,302.2 L167.4,303.8 L169.4,303.8 L171.2,304.8 L173.2,304.8 L175.1,304.8 L177.1,305.5 L179.0,304.8 L180.7,304.5 L181.9,302.9 L183.8,302.9 L185.7,301.9 L186.7,300.0 L188.4,298.8 L189.6,297.1 L189.6,298.8 L188.9,300.5 L189.9,302.1 L189.6,303.8 L190.2,305.8 L189.4,307.7 L188.6,309.6 L189.2,311.6 L189.2,313.6 L190.6,315.3 L190.2,317.4 L190.6,319.3 L192.2,320.0 L193.5,321.2 L195.3,320.2 L197.4,320.6 L199.3,320.3 L201.3,320.3 L203.1,321.2 L205.1,321.2 L206.4,322.2 L207.3,323.7 L209.0,324.1 L210.0,325.9 L212.1,326.9 L212.8,329.0 L213.2,330.8 L215.0,331.7 L215.4,333.5 L216.7,334.8 L217.2,336.6 L217.0,338.5 L218.1,340.1 L218.2,342.5 L218.9,344.8 L217.7,346.7 L216.5,348.6 L216.1,350.7 L215.0,352.5 L215.7,354.6 L215.0,356.6 L215.0,358.7 L214.5,360.4 L213.4,361.8 L214.5,363.2 L214.2,364.9 L213.1,367.1 L213.4,369.5 L211.9,373.4 L209.6,377.3 L209.4,380.8 L210.1,384.9 L208.7,387.5 L208.7,392.0 L208.7,398.4 L212.1,399.8 L213.5,401.8 L212.8,405.9 L210.1,409.3 L206.7,412.6 L204.7,414.7 L206.0,417.4 L204.7,420.1 L202.0,422.8 L200.6,426.9 L198.6,429.6 L195.2,430.7 L191.1,429.6 L187.1,427.5 L183.7,424.2 L180.3,421.4 L178.3,418.7 L177.6,415.4 L174.9,414.0 L170.8,412.0 L166.8,409.9 L162.7,407.9 L160.0,406.3 L157.4,405.0 L152.7,402.7 L148.1,400.4 L143.4,398.1 L138.8,395.8 L134.2,393.4 L129.5,391.1 L124.9,388.0 L121.0,384.9 L117.1,381.1 L113.3,378.0 L109.4,374.9 L106.3,370.2 L104.0,365.6 L103.2,360.9 L104.0,355.5 L101.7,350.1 L97.8,345.5 L94.7,340.8 L92.4,334.6 L88.0,327.3 L84.1,321.9 L81.0,316.5 L78.7,311.1 L75.6,304.9 L72.5,298.7 L70.2,293.3 L67.9,287.9 L65.5,282.4 L62.4,277.8 L58.6,273.9 L56.2,269.3 L53.9,264.6 L50.9,261.5 L48.6,258.1 L45.5,254.2 L41.7,251.1 L37.8,249.6 L33.9,247.3 L30.8,245.7 L30.8,242.6 L33.2,241.0 L32.4,238.0 L30.8,233.3 L30.1,229.5 L28.5,225.6 L28.5,221.0 L30.1,217.1 L33.2,214.0 L37.0,210.9 L40.9,208.6 L44.0,207.0 L44.8,210.1 L44.8,214.8 L42.4,217.9 L43.2,220.2 L46.3,221.0 L50.9,221.7 L54.8,223.3 L57.9,226.4 L61.0,229.5 L64.1,228.7 L66.4,225.6 L68.0,221.7 L70.3,217.1 L71.8,211.7 L74.2,207.0 L77.3,203.2 L81.9,200.0 L88.1,197.7 L94.3,195.4 L99.3,193.3 L103.9,190.2 L108.6,186.4 L112.4,182.5 L115.5,177.9 L117.9,173.2 L119.4,168.6 L118.6,164.7 L117.1,161.6 Z"/></clipPath><path d="M114.8,157.7 L118.6,157.0 L120.5,157.0 L122.5,157.0 L124.3,157.9 L125.6,159.3 L127.9,159.8 L129.5,161.6 L130.1,163.6 L131.8,164.7 L132.7,166.5 L134.1,167.8 L135.2,169.4 L136.4,170.9 L138.2,171.8 L139.5,173.2 L141.5,173.8 L142.6,175.5 L143.2,177.5 L144.9,178.6 L145.6,180.7 L147.0,182.4 L148.3,183.4 L149.1,185.0 L150.8,185.5 L151.6,187.0 L153.4,187.6 L153.9,189.3 L155.2,190.5 L157.1,190.0 L158.6,190.9 L160.9,190.2 L163.2,190.9 L165.3,191.2 L167.1,190.1 L169.1,189.7 L170.9,188.6 L172.9,188.9 L174.8,189.3 L176.7,189.2 L178.3,190.2 L180.2,190.1 L182.6,190.5 L184.9,190.9 L186.5,191.1 L187.9,192.2 L189.5,192.4 L191.4,193.2 L193.4,194.0 L195.5,194.8 L197.3,196.3 L197.1,198.5 L195.7,200.2 L194.0,201.7 L193.4,204.0 L191.9,205.8 L191.1,207.9 L189.9,209.9 L188.7,211.8 L191.1,212.6 L194.2,213.3 L195.8,214.0 L196.5,215.6 L197.1,217.6 L198.8,218.7 L197.3,220.3 L195.4,220.1 L194.2,218.7 L192.4,217.7 L190.3,218.0 L188.3,218.0 L186.4,218.7 L184.9,219.2 L183.1,219.1 L181.8,220.3 L179.4,220.4 L177.1,221.1 L175.6,221.6 L173.8,221.4 L172.5,222.6 L170.8,223.1 L169.7,224.8 L167.9,224.9 L166.0,225.1 L164.9,226.8 L163.2,227.3 L162.1,229.0 L160.1,229.6 L158.1,230.2 L157.0,231.9 L155.6,233.2 L154.7,235.0 L154.3,237.3 L153.9,239.6 L153.7,241.3 L152.6,242.6 L152.4,244.3 L151.9,245.8 L150.7,247.1 L150.8,248.9 L150.1,251.1 L150.0,253.5 L148.4,254.5 L146.4,254.8 L145.1,256.4 L143.9,257.5 L143.7,259.4 L142.2,260.3 L140.8,261.4 L141.1,263.4 L139.7,264.5 L139.3,266.1 L140.0,268.0 L140.0,270.2 L141.3,271.9 L141.7,273.5 L143.4,274.5 L143.5,276.2 L144.2,277.7 L145.4,279.0 L145.8,280.8 L147.6,281.7 L148.0,283.5 L148.4,285.5 L150.3,286.7 L150.6,288.8 L151.9,290.3 L152.2,292.2 L151.9,294.3 L152.9,296.1 L154.8,296.8 L156.9,296.1 L158.7,297.1 L160.4,298.4 L162.7,298.0 L164.5,299.0 L166.1,300.2 L166.4,302.2 L167.4,303.8 L169.4,303.8 L171.2,304.8 L173.2,304.8 L175.1,304.8 L177.1,305.5 L179.0,304.8 L180.7,304.5 L181.9,302.9 L183.8,302.9 L185.7,301.9 L186.7,300.0 L188.4,298.8 L189.6,297.1 L189.6,298.8 L188.9,300.5 L189.9,302.1 L189.6,303.8 L190.2,305.8 L189.4,307.7 L188.6,309.6 L189.2,311.6 L189.2,313.6 L190.6,315.3 L190.2,317.4 L190.6,319.3 L192.2,320.0 L193.5,321.2 L195.3,320.2 L197.4,320.6 L199.3,320.3 L201.3,320.3 L203.1,321.2 L205.1,321.2 L206.4,322.2 L207.3,323.7 L209.0,324.1 L210.0,325.9 L212.1,326.9 L212.8,329.0 L213.2,330.8 L215.0,331.7 L215.4,333.5 L216.7,334.8 L217.2,336.6 L217.0,338.5 L218.1,340.1 L218.2,342.5 L218.9,344.8 L217.7,346.7 L216.5,348.6 L216.1,350.7 L215.0,352.5 L215.7,354.6 L215.0,356.6 L215.0,358.7 L214.5,360.4 L213.4,361.8 L214.5,363.2 L214.2,364.9 L213.1,367.1 L213.4,369.5 L211.9,373.4 L209.6,377.3 L209.4,380.8 L210.1,384.9 L208.7,387.5 L208.7,392.0 L208.7,398.4 L212.1,399.8 L213.5,401.8 L212.8,405.9 L210.1,409.3 L206.7,412.6 L204.7,414.7 L206.0,417.4 L204.7,420.1 L202.0,422.8 L200.6,426.9 L198.6,429.6 L195.2,430.7 L191.1,429.6 L187.1,427.5 L183.7,424.2 L180.3,421.4 L178.3,418.7 L177.6,415.4 L174.9,414.0 L170.8,412.0 L166.8,409.9 L162.7,407.9 L160.0,406.3 L157.4,405.0 L152.7,402.7 L148.1,400.4 L143.4,398.1 L138.8,395.8 L134.2,393.4 L129.5,391.1 L124.9,388.0 L121.0,384.9 L117.1,381.1 L113.3,378.0 L109.4,374.9 L106.3,370.2 L104.0,365.6 L103.2,360.9 L104.0,355.5 L101.7,350.1 L97.8,345.5 L94.7,340.8 L92.4,334.6 L88.0,327.3 L84.1,321.9 L81.0,316.5 L78.7,311.1 L75.6,304.9 L72.5,298.7 L70.2,293.3 L67.9,287.9 L65.5,282.4 L62.4,277.8 L58.6,273.9 L56.2,269.3 L53.9,264.6 L50.9,261.5 L48.6,258.1 L45.5,254.2 L41.7,251.1 L37.8,249.6 L33.9,247.3 L30.8,245.7 L30.8,242.6 L33.2,241.0 L32.4,238.0 L30.8,233.3 L30.1,229.5 L28.5,225.6 L28.5,221.0 L30.1,217.1 L33.2,214.0 L37.0,210.9 L40.9,208.6 L44.0,207.0 L44.8,210.1 L44.8,214.8 L42.4,217.9 L43.2,220.2 L46.3,221.0 L50.9,221.7 L54.8,223.3 L57.9,226.4 L61.0,229.5 L64.1,228.7 L66.4,225.6 L68.0,221.7 L70.3,217.1 L71.8,211.7 L74.2,207.0 L77.3,203.2 L81.9,200.0 L88.1,197.7 L94.3,195.4 L99.3,193.3 L103.9,190.2 L108.6,186.4 L112.4,182.5 L115.5,177.9 L117.9,173.2 L119.4,168.6 L118.6,164.7 L117.1,161.6 Z" fill="#fff" stroke="#0a3270" stroke-opacity="0.55" stroke-width="0.6"/><filter id="sf2" x="-10%" y="-10%" width="120%" height="120%"><feGaussianBlur stdDeviation="0.55"/></filter><g clip-path="url(#cp2)"><g filter="url(#sf2)"><path d="M88.7,306.2 L90.7,315.7 L95.7,322.7 L99.2,329.7 L103.2,336.2 L107.7,342.7 L112.7,348.7" fill="none" stroke="#fcf11e" stroke-width="6.5" stroke-linejoin="round" stroke-linecap="round"/><path d="M116.0,336.6 L121.8,334.6 L127.6,340.4 L135.4,346.2 L143.1,352.0 L152.8,354.9 L162.4,357.8 L168.2,365.6 L174.0,371.4 L183.7,375.2 L193.4,379.1 L199.2,384.9 L197.2,390.7 L187.6,390.7 L179.8,386.8 L170.2,383.9 L160.5,381.0 L150.8,382.0 L143.1,385.9 L135.4,388.8 L126.7,388.7 L114.7,380.7 L106.7,368.7 L109.7,352.7 L112.7,344.7 Z" fill="#fcf11e"/><path d="M102.7,358.7 L108.7,374.7 L118.7,384.7 L126.7,388.7 L141.2,389.7 L154.7,392.7 L166.4,396.7 L176.7,402.7 L182.7,409.7 L188.7,415.7 L195.4,420.2 L201.2,423.7 L203.7,426.7 L204.7,434.7 L194.7,436.7 L181.7,426.7 L168.7,416.7 L151.7,408.7 L136.7,402.7 L121.7,396.7 L106.7,384.7 L96.7,367.7 Z" fill="#fcf11e"/><path d="M91.7,318.0 L95.7,324.7 L100.6,333.7 L105.7,340.7 L110.5,347.2" fill="none" stroke="#f99d1e" stroke-width="3.4" stroke-linejoin="round" stroke-linecap="round"/><path d="M126.2,348.7 L128.2,353.2 L132.7,357.7 L139.2,361.1 L147.0,362.5 L154.7,361.5 L158.6,360.2" fill="none" stroke="#f99d1e" stroke-width="6" stroke-linejoin="round" stroke-linecap="round"/><path d="M161.5,400.4 L171.2,406.2 L179.0,414.0 L185.7,419.8 L193.5,425.6 L196.4,427.5" fill="none" stroke="#f99d1e" stroke-width="3.2" stroke-linejoin="round" stroke-linecap="round"/></g></g><g fill="none" stroke="#7a7a7a" stroke-width="0.75" stroke-linejoin="round"><path d="M33.0,217.5 L35.0,217.8 L37.0,218.0 L38.8,217.8 L40.6,218.1"/><path d="M39.3,249.0 L40.5,247.5 L42.0,246.3 L42.6,244.4 L44.0,243.0 L45.0,241.3 L46.7,240.3 L48.1,238.9 L51.3,239.5 L52.7,241.5 L54.4,243.3 L56.3,244.2 L58.2,245.2 L60.7,246.4"/><path d="M58.2,230.1 L57.9,232.6 L57.5,235.1 L58.1,237.6 L58.2,240.1 L58.7,242.6 L58.2,245.2 L57.1,247.2 L57.1,249.5 L56.3,251.5 L57.7,253.8 L58.2,256.5 L57.8,258.4 L58.2,260.3"/><path d="M53.1,262.8 L55.0,262.1 L57.0,261.5 L57.8,263.3 L58.2,265.3 L60.3,266.2 L61.9,267.8 L63.9,267.6 L65.7,266.5 L67.5,268.0 L69.5,269.1 L72.0,269.7 L74.5,270.3 L76.3,269.5 L78.3,269.1 L79.2,267.0 L80.8,265.3"/><path d="M65.7,226.3 L66.1,228.4 L66.1,230.6 L67.0,232.6 L67.2,234.7 L68.2,236.7 L68.2,238.9 L67.5,241.3 L67.6,243.9 L69.0,245.9 L70.7,247.7 L72.6,249.6 L74.5,251.5 L75.8,253.0 L76.4,255.0 L77.7,256.5 L78.6,259.0 L79.5,261.5 L80.4,263.3 L80.8,265.3 L82.1,267.2 L82.5,269.5 L83.3,271.6 L84.3,273.2 L84.6,275.1 L86.0,276.5 L86.3,278.3 L87.1,280.0"/><path d="M81.5,201.5 L82.1,203.4 L82.2,205.4 L83.2,207.1 L83.2,209.1 L84.1,210.9 L84.0,212.9 L84.2,214.8 L83.7,217.0 L82.6,219.1 L82.1,221.3 L81.7,223.4 L80.8,225.4 L80.8,227.6 L81.2,230.2 L82.1,232.6 L82.1,234.5 L82.1,236.4 L84.6,237.6 L86.4,238.5 L88.3,238.9 L90.7,239.5 L93.0,240.1 L94.4,241.5 L95.4,243.4 L96.8,244.8 L98.7,245.3 L100.5,246.2 L102.6,246.0 L104.5,246.7 L106.4,246.2 L108.4,246.7 L110.3,247.1 L112.3,246.5 L114.2,246.7"/><path d="M82.1,236.4 L81.4,238.2 L80.8,240.1 L82.2,241.9 L83.3,243.9 L85.4,244.8 L87.1,246.4 L89.6,248.9 L89.2,250.9 L88.3,252.7 L87.4,254.8 L85.8,256.5 L84.2,258.2 L83.3,260.3 L81.9,262.0 L80.8,264.0"/><path d="M114.2,246.7 L114.5,249.0 L114.4,251.3 L115.1,253.5 L113.4,254.6 L112.2,256.4 L110.3,257.4 L108.9,259.1 L108.6,261.4 L107.4,263.2 L108.1,265.1 L107.9,267.0 L107.7,269.0 L108.4,270.9 L107.7,272.9 L107.8,275.2 L106.9,277.2 L106.4,279.3 L106.2,281.3 L105.5,283.2 L103.7,284.6 L101.6,285.1 L99.6,285.0 L97.8,286.0 L95.8,286.1 L93.2,285.6 L91.0,284.2 L92.7,283.1 L93.8,281.3 L92.9,278.4 L91.1,279.3 L89.0,279.3 L87.3,277.9 L85.0,277.6 L83.2,276.4 L81.3,277.2 L79.3,277.1 L77.4,277.4 L76.0,278.7 L74.2,279.5 L73.1,281.2 L71.2,282.0 L69.7,283.2"/><path d="M89.0,279.3 L89.3,281.2 L89.2,283.2 L90.0,285.1 L90.8,287.2 L92.3,288.8 L92.9,291.0 L93.8,293.2 L95.7,294.7 L96.8,296.8 L97.0,298.8 L96.3,300.6 L95.6,302.5 L95.8,304.5 L95.2,306.7 L95.6,309.1 L94.8,311.3 L92.7,311.6 L91.0,313.0 L89.0,313.5 L87.1,314.2 L85.1,314.0 L83.2,314.2"/><path d="M94.8,311.3 L96.8,312.8 L98.7,314.2 L100.3,316.0 L101.6,318.0 L101.5,320.1 L100.6,321.9 L101.2,324.0 L102.7,325.7 L103.5,327.7 L105.2,329.4 L106.1,331.6 L107.4,333.5 L108.9,334.6 L109.8,336.3 L111.3,337.4 L112.3,339.3 L112.8,341.5 L114.2,343.2 L113.7,345.1 L114.1,347.1 L113.5,349.0 L113.2,350.9 L112.2,352.5 L110.6,353.7 L109.9,355.5 L108.4,356.7 L106.7,355.0 L104.5,354.0"/><path d="M98.7,312.2 L100.6,311.2 L102.7,310.7 L104.4,309.1 L106.4,308.4 L108.2,307.4 L110.3,307.2 L112.3,307.1 L114.1,305.9 L116.1,305.5 L117.8,304.1 L119.9,303.6 L122.1,303.0 L123.8,301.6 L125.9,300.3 L127.7,298.7 L128.0,296.8 L128.8,294.9 L128.7,292.9 L128.6,290.9 L127.6,289.1 L127.7,287.1 L125.6,287.6 L123.8,289.0 L121.7,290.1 L120.2,292.0 L118.0,292.9 L115.9,293.5 L114.2,295.0 L112.2,295.8 L111.1,293.7 L110.9,291.3 L110.3,289.0 L109.6,286.6 L109.3,284.2"/><path d="M127.7,298.7 L128.4,300.6 L128.7,302.7 L130.1,304.4 L130.6,306.4 L132.0,308.1 L132.5,310.3 L133.5,312.2 L134.3,314.1 L134.6,316.1 L135.4,318.0 L137.4,317.1 L139.3,316.1 L141.3,316.8 L143.2,318.0 L144.6,319.7 L145.1,321.9 L146.1,323.8 L146.1,325.8 L145.4,327.7 L145.8,329.7 L145.1,331.6 L144.0,333.4 L144.0,335.5 L143.2,337.4"/><path d="M101.6,320.0 L103.8,319.8 L106.0,319.9 L108.1,319.0 L110.3,319.0 L112.1,318.1 L114.2,318.0 L116.2,317.9 L118.0,317.0 L120.0,317.2 L121.9,316.6 L123.8,317.0 L125.8,317.0 L127.8,317.3 L129.6,318.2 L131.7,318.1 L133.5,319.0"/><path d="M109.3,284.2 L111.0,283.2 L113.0,282.6 L114.4,281.1 L116.4,280.5 L118.0,279.3 L119.7,278.5 L121.5,278.0 L122.9,276.6 L124.7,276.2 L126.1,274.8 L127.9,274.3 L129.6,273.5 L130.7,271.4 L132.4,269.8 L133.5,267.7 L135.4,267.1 L137.5,266.9 L139.3,265.8"/><path d="M189.3,299.7 L188.3,301.3 L187.0,302.7 L186.6,304.6 L185.2,306.0 L184.9,307.9 L183.5,309.3 L182.0,310.6 L181.4,312.6 L179.8,313.8 L179.2,315.8 L177.7,317.1 L175.8,318.0 L174.6,319.8 L172.7,320.8 L171.5,322.6 L169.6,323.5 L168.0,324.8 L166.2,326.0 L164.0,326.5 L162.2,327.7 L160.3,327.2 L158.5,326.3 L156.4,326.5 L154.5,325.8 L152.5,325.9 L150.6,325.1 L148.7,324.8 L147.2,323.0 L146.3,320.8 L144.8,319.0 L141.9,317.1 L140.1,317.7 L138.8,319.2 L137.1,320.0 L135.3,320.9 L133.2,321.0 L131.5,319.6 L129.3,319.0"/><path d="M162.2,327.7 L163.2,329.4 L163.8,331.3 L165.3,332.7 L166.1,334.5 L165.9,336.6 L164.8,338.4 L164.2,340.3 L165.7,342.1 L166.5,344.3 L168.0,346.1 L169.9,347.4 L171.6,349.1 L173.8,350.0 L175.7,350.6 L177.8,350.3 L179.6,351.1 L181.5,352.0 L183.5,351.9 L185.4,352.5 L187.5,352.2 L189.3,353.0 L191.2,353.9 L193.2,353.8 L195.1,354.2 L197.1,353.8 L199.0,354.4 L200.8,355.0 L202.8,354.8 L204.6,354.8 L206.3,353.9 L208.2,354.1 L210.0,353.8 L211.6,352.7 L213.4,352.1 L215.0,351.0"/><path d="M193.2,353.8 L192.4,355.7 L191.2,357.5 L191.1,359.7 L189.9,361.5 L189.3,363.5 L188.6,365.4 L187.4,367.2 L187.3,369.4 L186.4,371.2 L186.4,373.3 L185.4,375.1 L184.5,376.9 L184.5,379.0 L184.4,381.3 L185.3,383.6 L185.0,386.0 L184.7,388.1 L185.6,390.2 L185.3,392.3 L185.7,394.4 L185.3,396.2 L184.4,397.9 L184.4,399.8 L182.9,401.0 L182.0,402.8 L180.3,403.8 L178.3,406.6 L178.2,408.6 L177.6,410.6"/><path d="M144.8,355.8 L142.9,355.8 L141.0,355.8 L141.0,357.8 L140.3,359.6 L140.7,361.6 L140.0,363.5 L140.3,365.6 L141.7,367.3 L142.0,369.4 L142.9,371.2 L144.8,371.2 L146.8,371.6 L148.7,371.2 L150.7,371.0 L152.5,370.0 L154.5,370.1 L156.5,370.1 L158.4,369.3 L160.4,368.8 L162.1,367.4 L164.2,367.1 L166.1,366.4 L164.9,364.1 L164.2,361.6 L162.0,360.7 L160.3,359.0 L158.4,357.7 L156.4,357.7 L154.5,357.0 L152.5,357.4 L150.6,356.7 L148.7,356.0 L146.7,356.3 L144.8,355.8"/><path d="M110.0,336.4 L111.9,336.7 L113.8,337.5 L115.8,337.2 L117.7,338.0 L119.7,337.6 L121.6,338.4 L123.6,338.3 L125.4,337.2 L127.4,337.1 L129.3,336.4 L130.6,338.3 L131.5,340.5 L133.2,342.2 L135.1,343.1 L137.2,343.1 L139.0,344.2 L141.1,344.0 L142.8,342.7 L144.8,342.2 L145.0,340.1 L146.1,338.3 L146.8,336.4 L146.1,334.5 L146.0,332.5 L144.9,330.7 L144.8,328.7 L146.4,327.7 L147.2,325.9 L148.7,324.8"/><path d="M113.9,348.0 L114.3,349.9 L114.2,352.0 L115.3,353.8 L115.2,355.8 L115.8,357.7 L116.4,359.6 L116.6,361.7 L117.7,363.5 L118.8,365.0 L120.6,365.8 L121.6,367.4 L121.8,369.5 L123.1,371.2 L123.5,373.2 L125.2,374.9 L126.1,377.1 L127.4,379.0 L128.2,380.9 L128.5,382.9 L129.3,384.8"/><path d="M129.3,346.1 L129.8,348.0 L129.9,350.1 L131.0,351.8 L131.3,353.8 L132.2,355.6 L132.2,357.7 L132.3,359.8 L133.2,361.6 L132.4,363.5 L132.4,365.6 L131.3,367.4 L133.3,367.4 L135.0,366.3 L137.0,366.3 L138.8,365.6 L140.0,364.1 L141.6,362.8 L142.3,360.8 L143.9,359.6 L145.0,357.9"/><path d="M166.1,366.4 L167.5,365.2 L169.2,364.2 L170.1,362.5 L171.8,361.6 L172.7,359.9 L174.4,358.9 L175.8,357.7 L177.0,359.2 L177.5,361.0 L179.1,362.3 L179.7,364.2 L180.2,366.0 L181.6,367.4 L182.4,369.1 L183.9,370.2 L184.5,372.0"/><path d="M185.7,394.4 L187.5,395.3 L189.1,396.6 L191.1,397.1 L191.6,399.0 L192.9,400.5 L193.2,402.5 L194.6,404.2 L196.6,405.2 L197.0,407.3 L197.9,409.3 L199.2,411.3 L200.6,413.3 L202.8,414.5 L204.7,416.0"/><path d="M196.6,405.2 L195.2,406.6 L193.5,407.6 L192.5,409.3 L191.6,411.2 L191.1,413.3 L189.8,414.6 L188.4,416.0 L187.2,417.5 L185.6,418.6 L184.4,420.1 L183.0,422.1"/><path d="M105.5,352.4 L107.3,352.2 L109.2,352.4 L111.0,351.7 L112.7,350.3 L113.7,348.3 L115.6,347.0 L117.1,345.7 L117.7,343.8 L119.2,342.5 L120.2,340.8 L119.5,338.5 L118.7,336.2"/><path d="M124.1,385.7 L124.9,383.6 L126.1,381.7 L126.4,379.5 L125.6,377.3 L123.9,375.6 L123.3,373.3"/></g><path d="M205.4,385.6 L200.6,386.9 L200.0,390.3 L200.6,393.0 L204.7,395.7 L207.4,398.4 L208.7,398.0 L208.7,392.0 L208.7,387.5 Z" fill="#2196e0"/></g>
<g transform="translate(410.5,-10)"><clipPath id="cp3"><path d="M114.8,157.7 L118.6,157.0 L120.5,157.0 L122.5,157.0 L124.3,157.9 L125.6,159.3 L127.9,159.8 L129.5,161.6 L130.1,163.6 L131.8,164.7 L132.7,166.5 L134.1,167.8 L135.2,169.4 L136.4,170.9 L138.2,171.8 L139.5,173.2 L141.5,173.8 L142.6,175.5 L143.2,177.5 L144.9,178.6 L145.6,180.7 L147.0,182.4 L148.3,183.4 L149.1,185.0 L150.8,185.5 L151.6,187.0 L153.4,187.6 L153.9,189.3 L155.2,190.5 L157.1,190.0 L158.6,190.9 L160.9,190.2 L163.2,190.9 L165.3,191.2 L167.1,190.1 L169.1,189.7 L170.9,188.6 L172.9,188.9 L174.8,189.3 L176.7,189.2 L178.3,190.2 L180.2,190.1 L182.6,190.5 L184.9,190.9 L186.5,191.1 L187.9,192.2 L189.5,192.4 L191.4,193.2 L193.4,194.0 L195.5,194.8 L197.3,196.3 L197.1,198.5 L195.7,200.2 L194.0,201.7 L193.4,204.0 L191.9,205.8 L191.1,207.9 L189.9,209.9 L188.7,211.8 L191.1,212.6 L194.2,213.3 L195.8,214.0 L196.5,215.6 L197.1,217.6 L198.8,218.7 L197.3,220.3 L195.4,220.1 L194.2,218.7 L192.4,217.7 L190.3,218.0 L188.3,218.0 L186.4,218.7 L184.9,219.2 L183.1,219.1 L181.8,220.3 L179.4,220.4 L177.1,221.1 L175.6,221.6 L173.8,221.4 L172.5,222.6 L170.8,223.1 L169.7,224.8 L167.9,224.9 L166.0,225.1 L164.9,226.8 L163.2,227.3 L162.1,229.0 L160.1,229.6 L158.1,230.2 L157.0,231.9 L155.6,233.2 L154.7,235.0 L154.3,237.3 L153.9,239.6 L153.7,241.3 L152.6,242.6 L152.4,244.3 L151.9,245.8 L150.7,247.1 L150.8,248.9 L150.1,251.1 L150.0,253.5 L148.4,254.5 L146.4,254.8 L145.1,256.4 L143.9,257.5 L143.7,259.4 L142.2,260.3 L140.8,261.4 L141.1,263.4 L139.7,264.5 L139.3,266.1 L140.0,268.0 L140.0,270.2 L141.3,271.9 L141.7,273.5 L143.4,274.5 L143.5,276.2 L144.2,277.7 L145.4,279.0 L145.8,280.8 L147.6,281.7 L148.0,283.5 L148.4,285.5 L150.3,286.7 L150.6,288.8 L151.9,290.3 L152.2,292.2 L151.9,294.3 L152.9,296.1 L154.8,296.8 L156.9,296.1 L158.7,297.1 L160.4,298.4 L162.7,298.0 L164.5,299.0 L166.1,300.2 L166.4,302.2 L167.4,303.8 L169.4,303.8 L171.2,304.8 L173.2,304.8 L175.1,304.8 L177.1,305.5 L179.0,304.8 L180.7,304.5 L181.9,302.9 L183.8,302.9 L185.7,301.9 L186.7,300.0 L188.4,298.8 L189.6,297.1 L189.6,298.8 L188.9,300.5 L189.9,302.1 L189.6,303.8 L190.2,305.8 L189.4,307.7 L188.6,309.6 L189.2,311.6 L189.2,313.6 L190.6,315.3 L190.2,317.4 L190.6,319.3 L192.2,320.0 L193.5,321.2 L195.3,320.2 L197.4,320.6 L199.3,320.3 L201.3,320.3 L203.1,321.2 L205.1,321.2 L206.4,322.2 L207.3,323.7 L209.0,324.1 L210.0,325.9 L212.1,326.9 L212.8,329.0 L213.2,330.8 L215.0,331.7 L215.4,333.5 L216.7,334.8 L217.2,336.6 L217.0,338.5 L218.1,340.1 L218.2,342.5 L218.9,344.8 L217.7,346.7 L216.5,348.6 L216.1,350.7 L215.0,352.5 L215.7,354.6 L215.0,356.6 L215.0,358.7 L214.5,360.4 L213.4,361.8 L214.5,363.2 L214.2,364.9 L213.1,367.1 L213.4,369.5 L211.9,373.4 L209.6,377.3 L209.4,380.8 L210.1,384.9 L208.7,387.5 L208.7,392.0 L208.7,398.4 L212.1,399.8 L213.5,401.8 L212.8,405.9 L210.1,409.3 L206.7,412.6 L204.7,414.7 L206.0,417.4 L204.7,420.1 L202.0,422.8 L200.6,426.9 L198.6,429.6 L195.2,430.7 L191.1,429.6 L187.1,427.5 L183.7,424.2 L180.3,421.4 L178.3,418.7 L177.6,415.4 L174.9,414.0 L170.8,412.0 L166.8,409.9 L162.7,407.9 L160.0,406.3 L157.4,405.0 L152.7,402.7 L148.1,400.4 L143.4,398.1 L138.8,395.8 L134.2,393.4 L129.5,391.1 L124.9,388.0 L121.0,384.9 L117.1,381.1 L113.3,378.0 L109.4,374.9 L106.3,370.2 L104.0,365.6 L103.2,360.9 L104.0,355.5 L101.7,350.1 L97.8,345.5 L94.7,340.8 L92.4,334.6 L88.0,327.3 L84.1,321.9 L81.0,316.5 L78.7,311.1 L75.6,304.9 L72.5,298.7 L70.2,293.3 L67.9,287.9 L65.5,282.4 L62.4,277.8 L58.6,273.9 L56.2,269.3 L53.9,264.6 L50.9,261.5 L48.6,258.1 L45.5,254.2 L41.7,251.1 L37.8,249.6 L33.9,247.3 L30.8,245.7 L30.8,242.6 L33.2,241.0 L32.4,238.0 L30.8,233.3 L30.1,229.5 L28.5,225.6 L28.5,221.0 L30.1,217.1 L33.2,214.0 L37.0,210.9 L40.9,208.6 L44.0,207.0 L44.8,210.1 L44.8,214.8 L42.4,217.9 L43.2,220.2 L46.3,221.0 L50.9,221.7 L54.8,223.3 L57.9,226.4 L61.0,229.5 L64.1,228.7 L66.4,225.6 L68.0,221.7 L70.3,217.1 L71.8,211.7 L74.2,207.0 L77.3,203.2 L81.9,200.0 L88.1,197.7 L94.3,195.4 L99.3,193.3 L103.9,190.2 L108.6,186.4 L112.4,182.5 L115.5,177.9 L117.9,173.2 L119.4,168.6 L118.6,164.7 L117.1,161.6 Z"/></clipPath><path d="M114.8,157.7 L118.6,157.0 L120.5,157.0 L122.5,157.0 L124.3,157.9 L125.6,159.3 L127.9,159.8 L129.5,161.6 L130.1,163.6 L131.8,164.7 L132.7,166.5 L134.1,167.8 L135.2,169.4 L136.4,170.9 L138.2,171.8 L139.5,173.2 L141.5,173.8 L142.6,175.5 L143.2,177.5 L144.9,178.6 L145.6,180.7 L147.0,182.4 L148.3,183.4 L149.1,185.0 L150.8,185.5 L151.6,187.0 L153.4,187.6 L153.9,189.3 L155.2,190.5 L157.1,190.0 L158.6,190.9 L160.9,190.2 L163.2,190.9 L165.3,191.2 L167.1,190.1 L169.1,189.7 L170.9,188.6 L172.9,188.9 L174.8,189.3 L176.7,189.2 L178.3,190.2 L180.2,190.1 L182.6,190.5 L184.9,190.9 L186.5,191.1 L187.9,192.2 L189.5,192.4 L191.4,193.2 L193.4,194.0 L195.5,194.8 L197.3,196.3 L197.1,198.5 L195.7,200.2 L194.0,201.7 L193.4,204.0 L191.9,205.8 L191.1,207.9 L189.9,209.9 L188.7,211.8 L191.1,212.6 L194.2,213.3 L195.8,214.0 L196.5,215.6 L197.1,217.6 L198.8,218.7 L197.3,220.3 L195.4,220.1 L194.2,218.7 L192.4,217.7 L190.3,218.0 L188.3,218.0 L186.4,218.7 L184.9,219.2 L183.1,219.1 L181.8,220.3 L179.4,220.4 L177.1,221.1 L175.6,221.6 L173.8,221.4 L172.5,222.6 L170.8,223.1 L169.7,224.8 L167.9,224.9 L166.0,225.1 L164.9,226.8 L163.2,227.3 L162.1,229.0 L160.1,229.6 L158.1,230.2 L157.0,231.9 L155.6,233.2 L154.7,235.0 L154.3,237.3 L153.9,239.6 L153.7,241.3 L152.6,242.6 L152.4,244.3 L151.9,245.8 L150.7,247.1 L150.8,248.9 L150.1,251.1 L150.0,253.5 L148.4,254.5 L146.4,254.8 L145.1,256.4 L143.9,257.5 L143.7,259.4 L142.2,260.3 L140.8,261.4 L141.1,263.4 L139.7,264.5 L139.3,266.1 L140.0,268.0 L140.0,270.2 L141.3,271.9 L141.7,273.5 L143.4,274.5 L143.5,276.2 L144.2,277.7 L145.4,279.0 L145.8,280.8 L147.6,281.7 L148.0,283.5 L148.4,285.5 L150.3,286.7 L150.6,288.8 L151.9,290.3 L152.2,292.2 L151.9,294.3 L152.9,296.1 L154.8,296.8 L156.9,296.1 L158.7,297.1 L160.4,298.4 L162.7,298.0 L164.5,299.0 L166.1,300.2 L166.4,302.2 L167.4,303.8 L169.4,303.8 L171.2,304.8 L173.2,304.8 L175.1,304.8 L177.1,305.5 L179.0,304.8 L180.7,304.5 L181.9,302.9 L183.8,302.9 L185.7,301.9 L186.7,300.0 L188.4,298.8 L189.6,297.1 L189.6,298.8 L188.9,300.5 L189.9,302.1 L189.6,303.8 L190.2,305.8 L189.4,307.7 L188.6,309.6 L189.2,311.6 L189.2,313.6 L190.6,315.3 L190.2,317.4 L190.6,319.3 L192.2,320.0 L193.5,321.2 L195.3,320.2 L197.4,320.6 L199.3,320.3 L201.3,320.3 L203.1,321.2 L205.1,321.2 L206.4,322.2 L207.3,323.7 L209.0,324.1 L210.0,325.9 L212.1,326.9 L212.8,329.0 L213.2,330.8 L215.0,331.7 L215.4,333.5 L216.7,334.8 L217.2,336.6 L217.0,338.5 L218.1,340.1 L218.2,342.5 L218.9,344.8 L217.7,346.7 L216.5,348.6 L216.1,350.7 L215.0,352.5 L215.7,354.6 L215.0,356.6 L215.0,358.7 L214.5,360.4 L213.4,361.8 L214.5,363.2 L214.2,364.9 L213.1,367.1 L213.4,369.5 L211.9,373.4 L209.6,377.3 L209.4,380.8 L210.1,384.9 L208.7,387.5 L208.7,392.0 L208.7,398.4 L212.1,399.8 L213.5,401.8 L212.8,405.9 L210.1,409.3 L206.7,412.6 L204.7,414.7 L206.0,417.4 L204.7,420.1 L202.0,422.8 L200.6,426.9 L198.6,429.6 L195.2,430.7 L191.1,429.6 L187.1,427.5 L183.7,424.2 L180.3,421.4 L178.3,418.7 L177.6,415.4 L174.9,414.0 L170.8,412.0 L166.8,409.9 L162.7,407.9 L160.0,406.3 L157.4,405.0 L152.7,402.7 L148.1,400.4 L143.4,398.1 L138.8,395.8 L134.2,393.4 L129.5,391.1 L124.9,388.0 L121.0,384.9 L117.1,381.1 L113.3,378.0 L109.4,374.9 L106.3,370.2 L104.0,365.6 L103.2,360.9 L104.0,355.5 L101.7,350.1 L97.8,345.5 L94.7,340.8 L92.4,334.6 L88.0,327.3 L84.1,321.9 L81.0,316.5 L78.7,311.1 L75.6,304.9 L72.5,298.7 L70.2,293.3 L67.9,287.9 L65.5,282.4 L62.4,277.8 L58.6,273.9 L56.2,269.3 L53.9,264.6 L50.9,261.5 L48.6,258.1 L45.5,254.2 L41.7,251.1 L37.8,249.6 L33.9,247.3 L30.8,245.7 L30.8,242.6 L33.2,241.0 L32.4,238.0 L30.8,233.3 L30.1,229.5 L28.5,225.6 L28.5,221.0 L30.1,217.1 L33.2,214.0 L37.0,210.9 L40.9,208.6 L44.0,207.0 L44.8,210.1 L44.8,214.8 L42.4,217.9 L43.2,220.2 L46.3,221.0 L50.9,221.7 L54.8,223.3 L57.9,226.4 L61.0,229.5 L64.1,228.7 L66.4,225.6 L68.0,221.7 L70.3,217.1 L71.8,211.7 L74.2,207.0 L77.3,203.2 L81.9,200.0 L88.1,197.7 L94.3,195.4 L99.3,193.3 L103.9,190.2 L108.6,186.4 L112.4,182.5 L115.5,177.9 L117.9,173.2 L119.4,168.6 L118.6,164.7 L117.1,161.6 Z" fill="#fff" stroke="#0a3270" stroke-opacity="0.55" stroke-width="0.6"/><filter id="sf3" x="-10%" y="-10%" width="120%" height="120%"><feGaussianBlur stdDeviation="0.55"/></filter><g clip-path="url(#cp3)"><g filter="url(#sf3)"><path d="M75.2,289.0 L81.4,302.1 L86.1,313.0 L90.7,319.2 L96.9,330.0 L101.5,340.9 L106.2,350.1 L110.9,356.3 L115.5,354.8 L114.0,347.0 L109.3,337.8 L103.1,328.5 L98.5,316.1 L92.3,308.3 L84.5,297.5 L79.1,287.4 Z" fill="#fcf11e"/><path d="M89.2,291.3 L93.8,299.0 L98.5,308.3 L103.1,319.2 L109.3,328.5 L117.1,337.8 L121.7,344.0 L126.4,354.8 L137.5,354.8 L134.1,347.0 L129.5,339.3 L120.2,330.0 L112.4,319.2 L104.7,308.3 L98.5,299.0 L94.6,291.3 Z" fill="#fcf11e"/><path d="M125.5,350.0 L133.5,348.0 L142.9,354.4 L158.4,358.2 L171.9,358.2 L181.6,360.2 L195.1,366.0 L206.8,371.8 L212.5,377.6 L212.5,391.1 L199.0,389.2 L187.4,383.4 L175.8,379.5 L164.2,376.6 L152.6,375.6 L142.9,377.6 L133.2,371.8 L127.4,364.0 L125.5,354.4 Z" fill="#fcf11e"/><path d="M108.5,352.0 L114.5,363.0 L121.5,372.0 L128.5,380.5 L135.5,388.0 L142.5,393.5 L154.5,399.0 L166.5,404.0 L176.5,409.5 L183.5,417.0 L192.5,424.0 L201.5,428.0" fill="none" stroke="#fcf11e" stroke-width="8" stroke-linejoin="round" stroke-linecap="round"/><path d="M142.9,389.2 L156.4,393.1 L168.0,398.9 L175.8,404.7 L183.5,412.4 L193.2,418.2 L202.9,422.1 L206.5,424.0 L209.5,436.0 L189.5,438.0 L174.5,424.0 L159.5,414.0 L141.5,404.0 L137.5,396.0 Z" fill="#fcf11e"/><path d="M90.0,319.0 L95.0,325.5 L99.0,333.0 L103.5,341.0 L108.0,345.5 L111.5,348.0" fill="none" stroke="#f99d1e" stroke-width="5.5" stroke-linejoin="round" stroke-linecap="round"/><path d="M134.2,356.3 L140.9,356.3 L152.6,360.2 L162.2,362.1 L168.0,367.9 L166.1,371.8 L156.4,373.7 L146.8,374.7 L140.9,371.8 L136.1,366.0 L134.2,360.2 Z" fill="#f99d1e"/></g></g><g fill="none" stroke="#7a7a7a" stroke-width="0.75" stroke-linejoin="round"><path d="M33.0,217.5 L35.0,217.8 L37.0,218.0 L38.8,217.8 L40.6,218.1"/><path d="M39.3,249.0 L40.5,247.5 L42.0,246.3 L42.6,244.4 L44.0,243.0 L45.0,241.3 L46.7,240.3 L48.1,238.9 L51.3,239.5 L52.7,241.5 L54.4,243.3 L56.3,244.2 L58.2,245.2 L60.7,246.4"/><path d="M58.2,230.1 L57.9,232.6 L57.5,235.1 L58.1,237.6 L58.2,240.1 L58.7,242.6 L58.2,245.2 L57.1,247.2 L57.1,249.5 L56.3,251.5 L57.7,253.8 L58.2,256.5 L57.8,258.4 L58.2,260.3"/><path d="M53.1,262.8 L55.0,262.1 L57.0,261.5 L57.8,263.3 L58.2,265.3 L60.3,266.2 L61.9,267.8 L63.9,267.6 L65.7,266.5 L67.5,268.0 L69.5,269.1 L72.0,269.7 L74.5,270.3 L76.3,269.5 L78.3,269.1 L79.2,267.0 L80.8,265.3"/><path d="M65.7,226.3 L66.1,228.4 L66.1,230.6 L67.0,232.6 L67.2,234.7 L68.2,236.7 L68.2,238.9 L67.5,241.3 L67.6,243.9 L69.0,245.9 L70.7,247.7 L72.6,249.6 L74.5,251.5 L75.8,253.0 L76.4,255.0 L77.7,256.5 L78.6,259.0 L79.5,261.5 L80.4,263.3 L80.8,265.3 L82.1,267.2 L82.5,269.5 L83.3,271.6 L84.3,273.2 L84.6,275.1 L86.0,276.5 L86.3,278.3 L87.1,280.0"/><path d="M81.5,201.5 L82.1,203.4 L82.2,205.4 L83.2,207.1 L83.2,209.1 L84.1,210.9 L84.0,212.9 L84.2,214.8 L83.7,217.0 L82.6,219.1 L82.1,221.3 L81.7,223.4 L80.8,225.4 L80.8,227.6 L81.2,230.2 L82.1,232.6 L82.1,234.5 L82.1,236.4 L84.6,237.6 L86.4,238.5 L88.3,238.9 L90.7,239.5 L93.0,240.1 L94.4,241.5 L95.4,243.4 L96.8,244.8 L98.7,245.3 L100.5,246.2 L102.6,246.0 L104.5,246.7 L106.4,246.2 L108.4,246.7 L110.3,247.1 L112.3,246.5 L114.2,246.7"/><path d="M82.1,236.4 L81.4,238.2 L80.8,240.1 L82.2,241.9 L83.3,243.9 L85.4,244.8 L87.1,246.4 L89.6,248.9 L89.2,250.9 L88.3,252.7 L87.4,254.8 L85.8,256.5 L84.2,258.2 L83.3,260.3 L81.9,262.0 L80.8,264.0"/><path d="M114.2,246.7 L114.5,249.0 L114.4,251.3 L115.1,253.5 L113.4,254.6 L112.2,256.4 L110.3,257.4 L108.9,259.1 L108.6,261.4 L107.4,263.2 L108.1,265.1 L107.9,267.0 L107.7,269.0 L108.4,270.9 L107.7,272.9 L107.8,275.2 L106.9,277.2 L106.4,279.3 L106.2,281.3 L105.5,283.2 L103.7,284.6 L101.6,285.1 L99.6,285.0 L97.8,286.0 L95.8,286.1 L93.2,285.6 L91.0,284.2 L92.7,283.1 L93.8,281.3 L92.9,278.4 L91.1,279.3 L89.0,279.3 L87.3,277.9 L85.0,277.6 L83.2,276.4 L81.3,277.2 L79.3,277.1 L77.4,277.4 L76.0,278.7 L74.2,279.5 L73.1,281.2 L71.2,282.0 L69.7,283.2"/><path d="M89.0,279.3 L89.3,281.2 L89.2,283.2 L90.0,285.1 L90.8,287.2 L92.3,288.8 L92.9,291.0 L93.8,293.2 L95.7,294.7 L96.8,296.8 L97.0,298.8 L96.3,300.6 L95.6,302.5 L95.8,304.5 L95.2,306.7 L95.6,309.1 L94.8,311.3 L92.7,311.6 L91.0,313.0 L89.0,313.5 L87.1,314.2 L85.1,314.0 L83.2,314.2"/><path d="M94.8,311.3 L96.8,312.8 L98.7,314.2 L100.3,316.0 L101.6,318.0 L101.5,320.1 L100.6,321.9 L101.2,324.0 L102.7,325.7 L103.5,327.7 L105.2,329.4 L106.1,331.6 L107.4,333.5 L108.9,334.6 L109.8,336.3 L111.3,337.4 L112.3,339.3 L112.8,341.5 L114.2,343.2 L113.7,345.1 L114.1,347.1 L113.5,349.0 L113.2,350.9 L112.2,352.5 L110.6,353.7 L109.9,355.5 L108.4,356.7 L106.7,355.0 L104.5,354.0"/><path d="M98.7,312.2 L100.6,311.2 L102.7,310.7 L104.4,309.1 L106.4,308.4 L108.2,307.4 L110.3,307.2 L112.3,307.1 L114.1,305.9 L116.1,305.5 L117.8,304.1 L119.9,303.6 L122.1,303.0 L123.8,301.6 L125.9,300.3 L127.7,298.7 L128.0,296.8 L128.8,294.9 L128.7,292.9 L128.6,290.9 L127.6,289.1 L127.7,287.1 L125.6,287.6 L123.8,289.0 L121.7,290.1 L120.2,292.0 L118.0,292.9 L115.9,293.5 L114.2,295.0 L112.2,295.8 L111.1,293.7 L110.9,291.3 L110.3,289.0 L109.6,286.6 L109.3,284.2"/><path d="M127.7,298.7 L128.4,300.6 L128.7,302.7 L130.1,304.4 L130.6,306.4 L132.0,308.1 L132.5,310.3 L133.5,312.2 L134.3,314.1 L134.6,316.1 L135.4,318.0 L137.4,317.1 L139.3,316.1 L141.3,316.8 L143.2,318.0 L144.6,319.7 L145.1,321.9 L146.1,323.8 L146.1,325.8 L145.4,327.7 L145.8,329.7 L145.1,331.6 L144.0,333.4 L144.0,335.5 L143.2,337.4"/><path d="M101.6,320.0 L103.8,319.8 L106.0,319.9 L108.1,319.0 L110.3,319.0 L112.1,318.1 L114.2,318.0 L116.2,317.9 L118.0,317.0 L120.0,317.2 L121.9,316.6 L123.8,317.0 L125.8,317.0 L127.8,317.3 L129.6,318.2 L131.7,318.1 L133.5,319.0"/><path d="M109.3,284.2 L111.0,283.2 L113.0,282.6 L114.4,281.1 L116.4,280.5 L118.0,279.3 L119.7,278.5 L121.5,278.0 L122.9,276.6 L124.7,276.2 L126.1,274.8 L127.9,274.3 L129.6,273.5 L130.7,271.4 L132.4,269.8 L133.5,267.7 L135.4,267.1 L137.5,266.9 L139.3,265.8"/><path d="M189.3,299.7 L188.3,301.3 L187.0,302.7 L186.6,304.6 L185.2,306.0 L184.9,307.9 L183.5,309.3 L182.0,310.6 L181.4,312.6 L179.8,313.8 L179.2,315.8 L177.7,317.1 L175.8,318.0 L174.6,319.8 L172.7,320.8 L171.5,322.6 L169.6,323.5 L168.0,324.8 L166.2,326.0 L164.0,326.5 L162.2,327.7 L160.3,327.2 L158.5,326.3 L156.4,326.5 L154.5,325.8 L152.5,325.9 L150.6,325.1 L148.7,324.8 L147.2,323.0 L146.3,320.8 L144.8,319.0 L141.9,317.1 L140.1,317.7 L138.8,319.2 L137.1,320.0 L135.3,320.9 L133.2,321.0 L131.5,319.6 L129.3,319.0"/><path d="M162.2,327.7 L163.2,329.4 L163.8,331.3 L165.3,332.7 L166.1,334.5 L165.9,336.6 L164.8,338.4 L164.2,340.3 L165.7,342.1 L166.5,344.3 L168.0,346.1 L169.9,347.4 L171.6,349.1 L173.8,350.0 L175.7,350.6 L177.8,350.3 L179.6,351.1 L181.5,352.0 L183.5,351.9 L185.4,352.5 L187.5,352.2 L189.3,353.0 L191.2,353.9 L193.2,353.8 L195.1,354.2 L197.1,353.8 L199.0,354.4 L200.8,355.0 L202.8,354.8 L204.6,354.8 L206.3,353.9 L208.2,354.1 L210.0,353.8 L211.6,352.7 L213.4,352.1 L215.0,351.0"/><path d="M193.2,353.8 L192.4,355.7 L191.2,357.5 L191.1,359.7 L189.9,361.5 L189.3,363.5 L188.6,365.4 L187.4,367.2 L187.3,369.4 L186.4,371.2 L186.4,373.3 L185.4,375.1 L184.5,376.9 L184.5,379.0 L184.4,381.3 L185.3,383.6 L185.0,386.0 L184.7,388.1 L185.6,390.2 L185.3,392.3 L185.7,394.4 L185.3,396.2 L184.4,397.9 L184.4,399.8 L182.9,401.0 L182.0,402.8 L180.3,403.8 L178.3,406.6 L178.2,408.6 L177.6,410.6"/><path d="M144.8,355.8 L142.9,355.8 L141.0,355.8 L141.0,357.8 L140.3,359.6 L140.7,361.6 L140.0,363.5 L140.3,365.6 L141.7,367.3 L142.0,369.4 L142.9,371.2 L144.8,371.2 L146.8,371.6 L148.7,371.2 L150.7,371.0 L152.5,370.0 L154.5,370.1 L156.5,370.1 L158.4,369.3 L160.4,368.8 L162.1,367.4 L164.2,367.1 L166.1,366.4 L164.9,364.1 L164.2,361.6 L162.0,360.7 L160.3,359.0 L158.4,357.7 L156.4,357.7 L154.5,357.0 L152.5,357.4 L150.6,356.7 L148.7,356.0 L146.7,356.3 L144.8,355.8"/><path d="M110.0,336.4 L111.9,336.7 L113.8,337.5 L115.8,337.2 L117.7,338.0 L119.7,337.6 L121.6,338.4 L123.6,338.3 L125.4,337.2 L127.4,337.1 L129.3,336.4 L130.6,338.3 L131.5,340.5 L133.2,342.2 L135.1,343.1 L137.2,343.1 L139.0,344.2 L141.1,344.0 L142.8,342.7 L144.8,342.2 L145.0,340.1 L146.1,338.3 L146.8,336.4 L146.1,334.5 L146.0,332.5 L144.9,330.7 L144.8,328.7 L146.4,327.7 L147.2,325.9 L148.7,324.8"/><path d="M113.9,348.0 L114.3,349.9 L114.2,352.0 L115.3,353.8 L115.2,355.8 L115.8,357.7 L116.4,359.6 L116.6,361.7 L117.7,363.5 L118.8,365.0 L120.6,365.8 L121.6,367.4 L121.8,369.5 L123.1,371.2 L123.5,373.2 L125.2,374.9 L126.1,377.1 L127.4,379.0 L128.2,380.9 L128.5,382.9 L129.3,384.8"/><path d="M129.3,346.1 L129.8,348.0 L129.9,350.1 L131.0,351.8 L131.3,353.8 L132.2,355.6 L132.2,357.7 L132.3,359.8 L133.2,361.6 L132.4,363.5 L132.4,365.6 L131.3,367.4 L133.3,367.4 L135.0,366.3 L137.0,366.3 L138.8,365.6 L140.0,364.1 L141.6,362.8 L142.3,360.8 L143.9,359.6 L145.0,357.9"/><path d="M166.1,366.4 L167.5,365.2 L169.2,364.2 L170.1,362.5 L171.8,361.6 L172.7,359.9 L174.4,358.9 L175.8,357.7 L177.0,359.2 L177.5,361.0 L179.1,362.3 L179.7,364.2 L180.2,366.0 L181.6,367.4 L182.4,369.1 L183.9,370.2 L184.5,372.0"/><path d="M185.7,394.4 L187.5,395.3 L189.1,396.6 L191.1,397.1 L191.6,399.0 L192.9,400.5 L193.2,402.5 L194.6,404.2 L196.6,405.2 L197.0,407.3 L197.9,409.3 L199.2,411.3 L200.6,413.3 L202.8,414.5 L204.7,416.0"/><path d="M196.6,405.2 L195.2,406.6 L193.5,407.6 L192.5,409.3 L191.6,411.2 L191.1,413.3 L189.8,414.6 L188.4,416.0 L187.2,417.5 L185.6,418.6 L184.4,420.1 L183.0,422.1"/><path d="M105.5,352.4 L107.3,352.2 L109.2,352.4 L111.0,351.7 L112.7,350.3 L113.7,348.3 L115.6,347.0 L117.1,345.7 L117.7,343.8 L119.2,342.5 L120.2,340.8 L119.5,338.5 L118.7,336.2"/><path d="M124.1,385.7 L124.9,383.6 L126.1,381.7 L126.4,379.5 L125.6,377.3 L123.9,375.6 L123.3,373.3"/></g><path d="M205.4,385.6 L200.6,386.9 L200.0,390.3 L200.6,393.0 L204.7,395.7 L207.4,398.4 L208.7,398.0 L208.7,392.0 L208.7,387.5 Z" fill="#2196e0"/></g>
<path d="M32,147.4 L77,147.4 L89.5,161.9 Q91,163.4 89.5,164.9 L77,179.4 L32,179.4 Q26,179.4 26,173.4 L26,153.4 Q26,147.4 32,147.4 Z" fill="none" stroke="#d5e3f5" stroke-width="1.1"/><rect x="43.2" y="144.20000000000002" width="3.6" height="7.4" rx="1.8" fill="none" stroke="#d5e3f5" stroke-width="1"/><rect x="61.7" y="144.20000000000002" width="3.6" height="7.4" rx="1.8" fill="none" stroke="#d5e3f5" stroke-width="1"/><circle cx="80.9" cy="164.6" r="5.2" fill="#f3e81a"/><text x="51.3" y="162.8" text-anchor="middle" font-size="10" fill="#fff" stroke="#fff" stroke-width="0.25" font-family="Liberation Sans, sans-serif">Martes 18</text><text x="51.3" y="173.3" text-anchor="middle" font-size="10" fill="#fff" stroke="#fff" stroke-width="0.25" font-family="Liberation Sans, sans-serif">noviembre</text>
<path d="M237.4,147 L282.4,147 L294.9,161.5 Q296.4,163.0 294.9,164.5 L282.4,179 L237.4,179 Q231.4,179 231.4,173 L231.4,153 Q231.4,147 237.4,147 Z" fill="none" stroke="#d5e3f5" stroke-width="1.1"/><rect x="248.6" y="143.8" width="3.6" height="7.4" rx="1.8" fill="none" stroke="#d5e3f5" stroke-width="1"/><rect x="267.09999999999997" y="143.8" width="3.6" height="7.4" rx="1.8" fill="none" stroke="#d5e3f5" stroke-width="1"/><circle cx="294.8" cy="164.2" r="5.2" fill="#f07f1e"/><text x="260.3" y="162.4" text-anchor="middle" font-size="10" fill="#fff" stroke="#fff" stroke-width="0.25" font-family="Liberation Sans, sans-serif">Miércoles 19</text><text x="260.3" y="172.9" text-anchor="middle" font-size="10" fill="#fff" stroke="#fff" stroke-width="0.25" font-family="Liberation Sans, sans-serif">noviembre</text>
<path d="M430.8,147.6 L475.8,147.6 L488.3,162.1 Q489.8,163.6 488.3,165.1 L475.8,179.6 L430.8,179.6 Q424.8,179.6 424.8,173.6 L424.8,153.6 Q424.8,147.6 430.8,147.6 Z" fill="none" stroke="#d5e3f5" stroke-width="1.1"/><rect x="442.0" y="144.4" width="3.6" height="7.4" rx="1.8" fill="none" stroke="#d5e3f5" stroke-width="1"/><rect x="460.5" y="144.4" width="3.6" height="7.4" rx="1.8" fill="none" stroke="#d5e3f5" stroke-width="1"/><circle cx="480.9" cy="164.79999999999998" r="5.2" fill="#f07f1e"/><text x="452.0" y="163.0" text-anchor="middle" font-size="10" fill="#fff" stroke="#fff" stroke-width="0.25" font-family="Liberation Sans, sans-serif">Jueves 20</text><text x="452.0" y="173.5" text-anchor="middle" font-size="10" fill="#fff" stroke="#fff" stroke-width="0.25" font-family="Liberation Sans, sans-serif">noviembre</text>
<path d="M71,492 Q71,486.5 77,486 Q83,486.5 83,492" fill="none" stroke="#8a8a8a" stroke-width="1.2"/><ellipse cx="72.6" cy="493.5" rx="1.9" ry="3.2" fill="#b0203a"/><ellipse cx="81.4" cy="493.5" rx="1.9" ry="3.2" fill="#b0203a"/><ellipse cx="77" cy="491.5" rx="2.6" ry="2.6" fill="none" stroke="#444" stroke-width="1.1"/><ellipse cx="77" cy="495" rx="2.3" ry="2.2" fill="#6f9a5a"/><ellipse cx="77" cy="498.3" rx="3.6" ry="1.9" fill="#d2402a"/><path d="M71.5,499 Q77,504.5 82.5,499" fill="none" stroke="#c8202a" stroke-width="1.3"/><rect x="85.9" y="484.3" width="18.9" height="20" fill="#d9232a"/><rect x="105.3" y="484.3" width="55.7" height="20" fill="#5b5b5b"/><text x="95.3" y="497" text-anchor="middle" font-size="6.2" font-weight="bold" fill="#fff" font-family="Liberation Sans, sans-serif">PERÚ</text><text x="107.6" y="495.6" font-size="5.4" fill="#fff" font-family="Liberation Sans, sans-serif">Ministerio</text><text x="107.6" y="501.2" font-size="5.4" fill="#fff" font-family="Liberation Sans, sans-serif">del Ambiente</text><g transform="translate(495.8,494.8)"><path d="M-4,-8 Q-2,-15 1.5,-18.5 Q2.5,-13 4,-8 Z" fill="#f7c21b" transform="rotate(0.0)"/><path d="M-4,-8 Q-2,-15 1.5,-18.5 Q2.5,-13 4,-8 Z" fill="#f5b21a" transform="rotate(25.7)"/><path d="M-4,-8 Q-2,-15 1.5,-18.5 Q2.5,-13 4,-8 Z" fill="#f7c21b" transform="rotate(51.4)"/><path d="M-4,-8 Q-2,-15 1.5,-18.5 Q2.5,-13 4,-8 Z" fill="#f5b21a" transform="rotate(77.1)"/><path d="M-4,-8 Q-2,-15 1.5,-18.5 Q2.5,-13 4,-8 Z" fill="#f7c21b" transform="rotate(102.9)"/><path d="M-4,-8 Q-2,-15 1.5,-18.5 Q2.5,-13 4,-8 Z" fill="#f5b21a" transform="rotate(128.6)"/><path d="M-4,-8 Q-2,-15 1.5,-18.5 Q2.5,-13 4,-8 Z" fill="#f7c21b" transform="rotate(154.3)"/><path d="M-4,-8 Q-2,-15 1.5,-18.5 Q2.5,-13 4,-8 Z" fill="#f5b21a" transform="rotate(180.0)"/><path d="M-4,-8 Q-2,-15 1.5,-18.5 Q2.5,-13 4,-8 Z" fill="#f7c21b" transform="rotate(205.7)"/><path d="M-4,-8 Q-2,-15 1.5,-18.5 Q2.5,-13 4,-8 Z" fill="#f5b21a" transform="rotate(231.4)"/><path d="M-4,-8 Q-2,-15 1.5,-18.5 Q2.5,-13 4,-8 Z" fill="#f7c21b" transform="rotate(257.1)"/><path d="M-4,-8 Q-2,-15 1.5,-18.5 Q2.5,-13 4,-8 Z" fill="#f5b21a" transform="rotate(282.9)"/><path d="M-4,-8 Q-2,-15 1.5,-18.5 Q2.5,-13 4,-8 Z" fill="#f7c21b" transform="rotate(308.6)"/><path d="M-4,-8 Q-2,-15 1.5,-18.5 Q2.5,-13 4,-8 Z" fill="#f5b21a" transform="rotate(334.3)"/><circle r="10" fill="#f7c31c"/><circle r="8.2" fill="#fff"/></g><text x="487.8" y="501.6" font-size="20.5" font-weight="bold" font-style="italic" fill="#17408f" font-family="Liberation Sans, sans-serif">S</text><text x="502" y="499.3" font-size="15.2" font-weight="bold" font-style="italic" fill="#17408f" font-family="Liberation Sans, sans-serif" textLength="62" lengthAdjust="spacingAndGlyphs">enamhi</text><text x="514" y="503.8" font-size="2.6" fill="#17408f" font-family="Liberation Sans, sans-serif" textLength="50" lengthAdjust="spacingAndGlyphs">SERVICIO NACIONAL DE METEOROLOGÍA</text><text x="514" y="506.8" font-size="2.6" fill="#17408f" font-family="Liberation Sans, sans-serif" textLength="32" lengthAdjust="spacingAndGlyphs">E HIDROLOGÍA DEL PERÚ</text>
<path d="M96.6,452.4 C94,447.5 89.8,444 89.8,438.9 A6.8,6.8 0 0 1 103.4,438.9 C103.4,444 99.2,447.5 96.6,452.4 Z" fill="#fff"/><circle cx="96.6" cy="438.9" r="4.4" fill="none" stroke="#0b4f9c" stroke-width="1.3"/>
</svg>
<div class="loc">ÁNCASH, APURÍMAC, AREQUIPA, AYACUCHO, CUSCO, HUANCAVELICA, HUÁNUCO, ICA, JUNÍN, LIMA,<br>MOQUEGUA, PASCO PUNO Y TACNA</div>
</body></html>
